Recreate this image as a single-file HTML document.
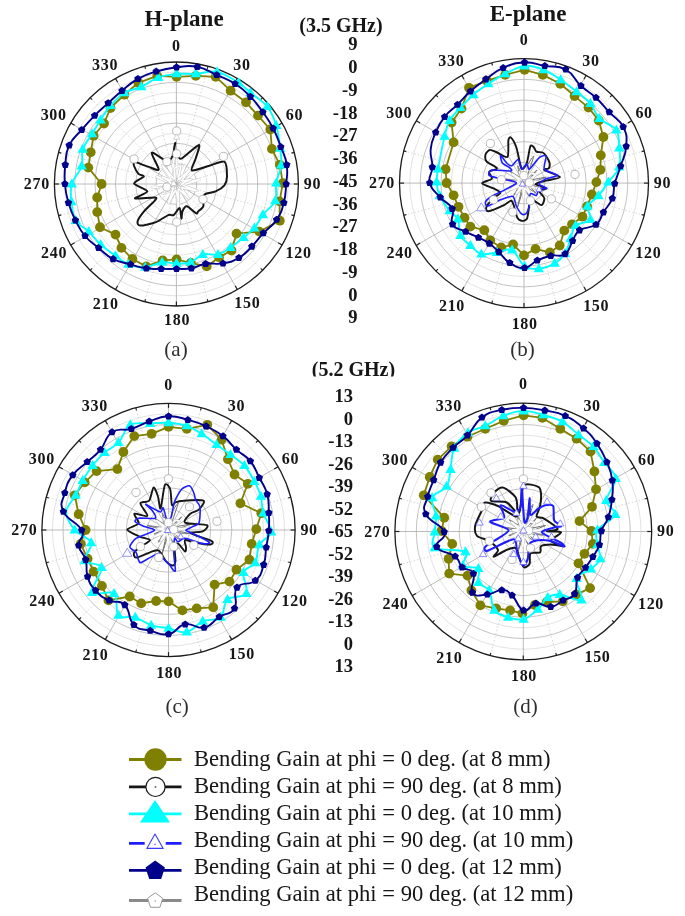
<!DOCTYPE html>
<html><head><meta charset="utf-8"><title>Bending gain radiation patterns</title>
<style>
html,body{margin:0;padding:0;background:#fff;}
body{width:685px;height:916px;overflow:hidden;font-family:"Liberation Serif",serif;}
svg{display:block;}
text{font-family:"Liberation Serif",serif;fill:#141414;}
.al{font-weight:bold;font-size:16px;letter-spacing:0.7px;}
.rl{font-weight:bold;font-size:18.5px;}
.ti{font-weight:bold;font-size:23px;}
.fr{font-weight:bold;font-size:20px;}
.sub{font-size:21px;fill:#2e2e2e;}
.lg{font-size:22.6px;}
</style></head><body>
<svg width="685" height="916" viewBox="0 0 685 916">
<defs><filter id="soft" x="-2%" y="-2%" width="104%" height="104%"><feGaussianBlur stdDeviation="0.45"/></filter></defs>
<rect width="685" height="916" fill="#fff"/>
<g filter="url(#soft)">
<g id="plot-a">
<circle cx="176.4" cy="184.0" r="10.17" fill="none" stroke="#dadada" stroke-width="0.8"/>
<circle cx="176.4" cy="184.0" r="20.33" fill="none" stroke="#b4b4b4" stroke-width="0.8"/>
<circle cx="176.4" cy="184.0" r="30.50" fill="none" stroke="#dadada" stroke-width="0.8"/>
<circle cx="176.4" cy="184.0" r="40.67" fill="none" stroke="#b4b4b4" stroke-width="0.8"/>
<circle cx="176.4" cy="184.0" r="50.83" fill="none" stroke="#dadada" stroke-width="0.8"/>
<circle cx="176.4" cy="184.0" r="61.00" fill="none" stroke="#b4b4b4" stroke-width="0.8"/>
<circle cx="176.4" cy="184.0" r="71.17" fill="none" stroke="#dadada" stroke-width="0.8"/>
<circle cx="176.4" cy="184.0" r="81.33" fill="none" stroke="#b4b4b4" stroke-width="0.8"/>
<circle cx="176.4" cy="184.0" r="91.50" fill="none" stroke="#dadada" stroke-width="0.8"/>
<circle cx="176.4" cy="184.0" r="101.67" fill="none" stroke="#b4b4b4" stroke-width="0.8"/>
<circle cx="176.4" cy="184.0" r="111.83" fill="none" stroke="#dadada" stroke-width="0.8"/>
<line x1="176.4" y1="184.0" x2="176.4" y2="62.0" stroke="#ababab" stroke-width="0.8"/>
<line x1="176.4" y1="66.5" x2="176.4" y2="62.0" stroke="#222" stroke-width="1.2"/>
<line x1="179.0" y1="174.2" x2="208.0" y2="66.2" stroke="#cccccc" stroke-width="0.8" stroke-dasharray="1.5,2"/>
<line x1="207.3" y1="68.9" x2="208.0" y2="66.2" stroke="#222" stroke-width="1.1"/>
<line x1="176.4" y1="184.0" x2="237.4" y2="78.3" stroke="#ababab" stroke-width="0.8"/>
<line x1="235.2" y1="82.2" x2="237.4" y2="78.3" stroke="#222" stroke-width="1.2"/>
<line x1="183.6" y1="176.8" x2="262.7" y2="97.7" stroke="#cccccc" stroke-width="0.8" stroke-dasharray="1.5,2"/>
<line x1="260.7" y1="99.7" x2="262.7" y2="97.7" stroke="#222" stroke-width="1.1"/>
<line x1="176.4" y1="184.0" x2="282.1" y2="123.0" stroke="#ababab" stroke-width="0.8"/>
<line x1="278.2" y1="125.2" x2="282.1" y2="123.0" stroke="#222" stroke-width="1.2"/>
<line x1="186.2" y1="181.4" x2="294.2" y2="152.4" stroke="#cccccc" stroke-width="0.8" stroke-dasharray="1.5,2"/>
<line x1="291.5" y1="153.1" x2="294.2" y2="152.4" stroke="#222" stroke-width="1.1"/>
<line x1="176.4" y1="184.0" x2="298.4" y2="184.0" stroke="#ababab" stroke-width="0.8"/>
<line x1="293.9" y1="184.0" x2="298.4" y2="184.0" stroke="#222" stroke-width="1.2"/>
<line x1="186.2" y1="186.6" x2="294.2" y2="215.6" stroke="#cccccc" stroke-width="0.8" stroke-dasharray="1.5,2"/>
<line x1="291.5" y1="214.9" x2="294.2" y2="215.6" stroke="#222" stroke-width="1.1"/>
<line x1="176.4" y1="184.0" x2="282.1" y2="245.0" stroke="#ababab" stroke-width="0.8"/>
<line x1="278.2" y1="242.7" x2="282.1" y2="245.0" stroke="#222" stroke-width="1.2"/>
<line x1="183.6" y1="191.2" x2="262.7" y2="270.3" stroke="#cccccc" stroke-width="0.8" stroke-dasharray="1.5,2"/>
<line x1="260.7" y1="268.3" x2="262.7" y2="270.3" stroke="#222" stroke-width="1.1"/>
<line x1="176.4" y1="184.0" x2="237.4" y2="289.7" stroke="#ababab" stroke-width="0.8"/>
<line x1="235.2" y1="285.8" x2="237.4" y2="289.7" stroke="#222" stroke-width="1.2"/>
<line x1="179.0" y1="193.8" x2="208.0" y2="301.8" stroke="#cccccc" stroke-width="0.8" stroke-dasharray="1.5,2"/>
<line x1="207.3" y1="299.1" x2="208.0" y2="301.8" stroke="#222" stroke-width="1.1"/>
<line x1="176.4" y1="184.0" x2="176.4" y2="306.0" stroke="#ababab" stroke-width="0.8"/>
<line x1="176.4" y1="301.5" x2="176.4" y2="306.0" stroke="#222" stroke-width="1.2"/>
<line x1="173.8" y1="193.8" x2="144.8" y2="301.8" stroke="#cccccc" stroke-width="0.8" stroke-dasharray="1.5,2"/>
<line x1="145.5" y1="299.1" x2="144.8" y2="301.8" stroke="#222" stroke-width="1.1"/>
<line x1="176.4" y1="184.0" x2="115.4" y2="289.7" stroke="#ababab" stroke-width="0.8"/>
<line x1="117.6" y1="285.8" x2="115.4" y2="289.7" stroke="#222" stroke-width="1.2"/>
<line x1="169.2" y1="191.2" x2="90.1" y2="270.3" stroke="#cccccc" stroke-width="0.8" stroke-dasharray="1.5,2"/>
<line x1="92.1" y1="268.3" x2="90.1" y2="270.3" stroke="#222" stroke-width="1.1"/>
<line x1="176.4" y1="184.0" x2="70.7" y2="245.0" stroke="#ababab" stroke-width="0.8"/>
<line x1="74.6" y1="242.8" x2="70.7" y2="245.0" stroke="#222" stroke-width="1.2"/>
<line x1="166.6" y1="186.6" x2="58.6" y2="215.6" stroke="#cccccc" stroke-width="0.8" stroke-dasharray="1.5,2"/>
<line x1="61.3" y1="214.9" x2="58.6" y2="215.6" stroke="#222" stroke-width="1.1"/>
<line x1="176.4" y1="184.0" x2="54.4" y2="184.0" stroke="#ababab" stroke-width="0.8"/>
<line x1="58.9" y1="184.0" x2="54.4" y2="184.0" stroke="#222" stroke-width="1.2"/>
<line x1="166.6" y1="181.4" x2="58.6" y2="152.4" stroke="#cccccc" stroke-width="0.8" stroke-dasharray="1.5,2"/>
<line x1="61.3" y1="153.1" x2="58.6" y2="152.4" stroke="#222" stroke-width="1.1"/>
<line x1="176.4" y1="184.0" x2="70.7" y2="123.0" stroke="#ababab" stroke-width="0.8"/>
<line x1="74.6" y1="125.2" x2="70.7" y2="123.0" stroke="#222" stroke-width="1.2"/>
<line x1="169.2" y1="176.8" x2="90.1" y2="97.7" stroke="#cccccc" stroke-width="0.8" stroke-dasharray="1.5,2"/>
<line x1="92.1" y1="99.7" x2="90.1" y2="97.7" stroke="#222" stroke-width="1.1"/>
<line x1="176.4" y1="184.0" x2="115.4" y2="78.3" stroke="#ababab" stroke-width="0.8"/>
<line x1="117.6" y1="82.2" x2="115.4" y2="78.3" stroke="#222" stroke-width="1.2"/>
<line x1="173.8" y1="174.2" x2="144.8" y2="66.2" stroke="#cccccc" stroke-width="0.8" stroke-dasharray="1.5,2"/>
<line x1="145.5" y1="68.9" x2="144.8" y2="66.2" stroke="#222" stroke-width="1.1"/>
<circle cx="176.4" cy="184.0" r="122.00" fill="none" stroke="#1c1c1c" stroke-width="1.3"/>
<path d="M176.4,151.5 C176.8,152.6 176.8,176.5 177.5,177.6 C178.3,178.7 184.9,165.1 185.2,165.1 C185.5,165.2 180.4,177.7 181.4,178.0 C182.5,178.4 197.4,168.8 197.7,169.1 C198.0,169.3 184.8,180.0 185.0,180.9 C185.1,181.8 199.5,179.6 199.4,179.9 C199.4,180.3 184.7,183.8 184.2,184.7 C183.7,185.5 193.7,190.0 193.5,190.2 C193.3,190.5 182.3,187.3 181.7,187.7 C181.1,188.2 186.7,195.9 186.4,196.0 C186.1,196.0 178.8,187.5 178.2,188.9 C177.6,190.3 179.1,212.4 178.9,212.5 C178.7,212.6 176.6,191.4 175.8,190.5 C175.1,189.5 170.5,201.1 170.2,201.1 C169.8,201.1 172.6,191.0 171.9,190.4 C171.3,189.8 162.7,194.0 162.6,193.7 C162.4,193.3 171.2,186.7 170.3,186.2 C169.4,185.7 152.1,187.7 151.9,187.4 C151.8,187.2 168.2,184.2 168.6,183.3 C169.0,182.4 156.8,177.3 156.9,176.9 C156.9,176.5 168.4,179.5 168.9,178.8 C169.5,178.0 162.6,168.1 163.0,168.1 C163.4,168.0 172.8,178.4 173.7,178.1 C174.5,177.8 172.8,167.0 173.0,164.8 C173.2,162.6 176.0,150.4 176.4,151.5 Z" fill="none" stroke="#c4c4c4" stroke-width="2.6" stroke-linejoin="round"/>
<path d="M176.4,151.5 C176.8,152.6 176.8,176.5 177.5,177.6 C178.3,178.7 184.9,165.1 185.2,165.1 C185.5,165.2 180.4,177.7 181.4,178.0 C182.5,178.4 197.4,168.8 197.7,169.1 C198.0,169.3 184.8,180.0 185.0,180.9 C185.1,181.8 199.5,179.6 199.4,179.9 C199.4,180.3 184.7,183.8 184.2,184.7 C183.7,185.5 193.7,190.0 193.5,190.2 C193.3,190.5 182.3,187.3 181.7,187.7 C181.1,188.2 186.7,195.9 186.4,196.0 C186.1,196.0 178.8,187.5 178.2,188.9 C177.6,190.3 179.1,212.4 178.9,212.5 C178.7,212.6 176.6,191.4 175.8,190.5 C175.1,189.5 170.5,201.1 170.2,201.1 C169.8,201.1 172.6,191.0 171.9,190.4 C171.3,189.8 162.7,194.0 162.6,193.7 C162.4,193.3 171.2,186.7 170.3,186.2 C169.4,185.7 152.1,187.7 151.9,187.4 C151.8,187.2 168.2,184.2 168.6,183.3 C169.0,182.4 156.8,177.3 156.9,176.9 C156.9,176.5 168.4,179.5 168.9,178.8 C169.5,178.0 162.6,168.1 163.0,168.1 C163.4,168.0 172.8,178.4 173.7,178.1 C174.5,177.8 172.8,167.0 173.0,164.8 C173.2,162.6 176.0,150.4 176.4,151.5 Z" fill="none" stroke="#fff" stroke-width="1.7" stroke-linejoin="round"/>
<path d="M180.5,166.3 C180.9,167.2 177.8,179.4 178.8,179.4 C179.9,179.4 193.0,165.8 193.2,165.9 C193.5,166.0 182.1,179.4 181.9,180.6 C181.8,181.7 191.3,179.1 191.3,179.4 C191.3,179.7 181.1,183.3 181.6,184.3 C182.1,185.2 197.4,190.5 197.4,190.8 C197.4,191.1 182.4,187.1 181.7,187.8 C181.0,188.5 189.2,198.9 188.9,198.9 C188.7,199.0 179.2,188.7 178.3,188.8 C177.5,189.0 178.7,200.6 178.5,200.8 C178.2,200.9 176.3,190.2 175.5,190.4 C174.6,190.6 168.5,203.4 168.3,203.1 C168.1,202.9 173.4,188.9 173.1,188.0 C172.7,187.1 164.8,192.2 164.5,192.0 C164.3,191.8 170.8,186.5 170.2,185.9 C169.6,185.3 156.9,185.6 156.9,185.4 C157.0,185.1 170.8,183.8 171.3,183.1 C171.7,182.4 162.4,177.4 162.4,177.2 C162.4,176.9 171.3,181.0 171.3,180.0 C171.3,179.0 162.1,165.4 162.3,165.3 C162.6,165.2 173.4,178.9 174.5,179.2 C175.5,179.4 174.0,169.6 174.5,168.5 C175.0,167.4 180.1,165.4 180.5,166.3 Z" fill="none" stroke="#c4c4c4" stroke-width="2.6" stroke-linejoin="round"/>
<path d="M180.5,166.3 C180.9,167.2 177.8,179.4 178.8,179.4 C179.9,179.4 193.0,165.8 193.2,165.9 C193.5,166.0 182.1,179.4 181.9,180.6 C181.8,181.7 191.3,179.1 191.3,179.4 C191.3,179.7 181.1,183.3 181.6,184.3 C182.1,185.2 197.4,190.5 197.4,190.8 C197.4,191.1 182.4,187.1 181.7,187.8 C181.0,188.5 189.2,198.9 188.9,198.9 C188.7,199.0 179.2,188.7 178.3,188.8 C177.5,189.0 178.7,200.6 178.5,200.8 C178.2,200.9 176.3,190.2 175.5,190.4 C174.6,190.6 168.5,203.4 168.3,203.1 C168.1,202.9 173.4,188.9 173.1,188.0 C172.7,187.1 164.8,192.2 164.5,192.0 C164.3,191.8 170.8,186.5 170.2,185.9 C169.6,185.3 156.9,185.6 156.9,185.4 C157.0,185.1 170.8,183.8 171.3,183.1 C171.7,182.4 162.4,177.4 162.4,177.2 C162.4,176.9 171.3,181.0 171.3,180.0 C171.3,179.0 162.1,165.4 162.3,165.3 C162.6,165.2 173.4,178.9 174.5,179.2 C175.5,179.4 174.0,169.6 174.5,168.5 C175.0,167.4 180.1,165.4 180.5,166.3 Z" fill="none" stroke="#fff" stroke-width="1.7" stroke-linejoin="round"/>
<path d="M175.3,142.9 C175.5,142.2 173.6,148.4 174.1,150.3 C174.5,152.2 177.7,156.2 178.8,157.3 C179.9,158.3 179.6,159.8 182.3,158.2 C185.0,156.5 197.2,144.9 199.0,145.0 C200.7,145.1 196.4,155.6 195.5,159.0 C194.5,162.4 190.2,169.5 191.9,170.4 C193.7,171.4 204.3,167.2 208.6,166.0 C212.9,164.9 221.9,160.3 224.4,161.7 C226.8,163.1 227.0,173.4 227.0,176.6 C227.0,179.7 225.9,183.3 224.4,185.3 C222.8,187.3 218.2,190.3 215.6,191.4 C213.0,192.6 206.8,193.0 205.1,194.1 C203.4,195.1 203.2,197.7 203.0,199.3 C202.8,201.0 204.0,204.7 203.3,206.3 C202.7,208.0 199.0,210.7 198.1,211.6 C197.1,212.5 197.8,214.0 196.3,213.3 C194.8,212.6 188.6,206.6 186.7,206.3 C184.8,206.1 183.0,210.0 182.3,211.6 C181.6,213.2 181.8,219.1 181.4,218.6 C181.1,218.1 180.7,208.6 179.7,208.1 C178.6,207.6 175.1,214.2 173.6,215.1 C172.0,216.0 170.6,214.2 168.3,215.1 C166.0,216.0 159.8,220.7 156.0,222.1 C152.3,223.5 142.7,225.7 140.3,225.6 C137.8,225.5 137.2,223.1 137.6,221.2 C138.1,219.4 141.6,214.3 143.8,211.6 C146.0,208.9 152.8,202.9 154.3,201.1 C155.8,199.2 157.7,197.9 155.2,197.6 C152.6,197.2 136.1,199.3 135.0,198.5 C134.0,197.6 147.4,193.4 147.3,191.4 C147.2,189.5 134.6,185.5 134.1,183.6 C133.7,181.6 143.2,177.8 143.8,176.6 C144.4,175.3 139.8,175.3 138.5,173.9 C137.2,172.5 134.7,167.7 134.1,166.0 C133.6,164.4 133.3,161.9 134.1,161.7 C135.0,161.4 138.3,163.2 140.3,163.9 C142.3,164.6 146.6,166.2 149.0,166.9 C151.5,167.7 158.3,171.4 158.7,169.5 C159.0,167.7 151.1,154.3 151.7,152.9 C152.2,151.5 160.8,157.9 163.0,159.0 C165.3,160.2 167.0,162.1 168.3,161.7 C169.6,161.2 171.7,158.0 172.7,155.5 C173.6,153.0 175.1,143.6 175.3,142.9 Z" fill="none" stroke="#151515" stroke-width="2.0" stroke-linejoin="round"/>
<circle cx="176.7" cy="131.0" r="4.1" fill="#fff" stroke="#a8a8a8" stroke-width="0.8"/>
<circle cx="134.1" cy="159.0" r="4.1" fill="#fff" stroke="#a8a8a8" stroke-width="0.8"/>
<circle cx="223.5" cy="156.4" r="4.1" fill="#fff" stroke="#a8a8a8" stroke-width="0.8"/>
<circle cx="203.0" cy="199.3" r="4.1" fill="#fff" stroke="#a8a8a8" stroke-width="0.8"/>
<circle cx="176.7" cy="222.1" r="4.1" fill="#fff" stroke="#a8a8a8" stroke-width="0.8"/>
<circle cx="176.7" cy="153.8" r="4.1" fill="#fff" stroke="#a8a8a8" stroke-width="0.8"/>
<circle cx="166.9" cy="161.7" r="4.1" fill="#fff" stroke="#a8a8a8" stroke-width="0.8"/>
<circle cx="166.9" cy="187.1" r="4.1" fill="#fff" stroke="#a8a8a8" stroke-width="0.8"/>
<polygon points="176.7,133.8 173.6,139.2 179.8,139.2" fill="#fff" stroke="#c0c0c0" stroke-width="0.7" stroke-linejoin="round"/>
<polygon points="173.6,180.2 170.4,185.6 176.7,185.6" fill="#fff" stroke="#c0c0c0" stroke-width="0.7" stroke-linejoin="round"/>
<path d="M176.6,76.8 L195.8,75.9 L215.7,76.8 L230.6,90.7 L246.0,102.3 L258.0,115.6 L270.3,129.5 L271.9,148.9 L279.8,164.8 L282.8,183.1 L279.6,201.4 L279.8,220.7 L259.3,231.6 L236.5,233.6 L231.5,250.5 L219.0,257.4 L206.7,266.4 L190.8,263.0 L176.6,259.4 L162.7,260.4 L146.3,266.4 L132.4,259.0 L121.4,247.9 L115.5,234.6 L100.0,227.2 L97.2,212.1 L97.2,197.5 L101.6,184.0 L88.3,167.6 L90.7,152.3 L93.6,135.8 L104.0,123.5 L110.5,108.0 L124.4,94.7 L138.3,82.8 L157.2,75.9 Z" fill="none" stroke="#808000" stroke-width="1.8" stroke-linejoin="round"/>
<circle cx="176.6" cy="76.8" r="4.9" fill="#808000" stroke="none" stroke-width="0"/>
<circle cx="195.8" cy="75.9" r="4.9" fill="#808000" stroke="none" stroke-width="0"/>
<circle cx="215.7" cy="76.8" r="4.9" fill="#808000" stroke="none" stroke-width="0"/>
<circle cx="230.6" cy="90.7" r="4.9" fill="#808000" stroke="none" stroke-width="0"/>
<circle cx="246.0" cy="102.3" r="4.9" fill="#808000" stroke="none" stroke-width="0"/>
<circle cx="258.0" cy="115.6" r="4.9" fill="#808000" stroke="none" stroke-width="0"/>
<circle cx="270.3" cy="129.5" r="4.9" fill="#808000" stroke="none" stroke-width="0"/>
<circle cx="271.9" cy="148.9" r="4.9" fill="#808000" stroke="none" stroke-width="0"/>
<circle cx="279.8" cy="164.8" r="4.9" fill="#808000" stroke="none" stroke-width="0"/>
<circle cx="282.8" cy="183.1" r="4.9" fill="#808000" stroke="none" stroke-width="0"/>
<circle cx="279.6" cy="201.4" r="4.9" fill="#808000" stroke="none" stroke-width="0"/>
<circle cx="279.8" cy="220.7" r="4.9" fill="#808000" stroke="none" stroke-width="0"/>
<circle cx="259.3" cy="231.6" r="4.9" fill="#808000" stroke="none" stroke-width="0"/>
<circle cx="236.5" cy="233.6" r="4.9" fill="#808000" stroke="none" stroke-width="0"/>
<circle cx="231.5" cy="250.5" r="4.9" fill="#808000" stroke="none" stroke-width="0"/>
<circle cx="219.0" cy="257.4" r="4.9" fill="#808000" stroke="none" stroke-width="0"/>
<circle cx="206.7" cy="266.4" r="4.9" fill="#808000" stroke="none" stroke-width="0"/>
<circle cx="190.8" cy="263.0" r="4.9" fill="#808000" stroke="none" stroke-width="0"/>
<circle cx="176.6" cy="259.4" r="4.9" fill="#808000" stroke="none" stroke-width="0"/>
<circle cx="162.7" cy="260.4" r="4.9" fill="#808000" stroke="none" stroke-width="0"/>
<circle cx="146.3" cy="266.4" r="4.9" fill="#808000" stroke="none" stroke-width="0"/>
<circle cx="132.4" cy="259.0" r="4.9" fill="#808000" stroke="none" stroke-width="0"/>
<circle cx="121.4" cy="247.9" r="4.9" fill="#808000" stroke="none" stroke-width="0"/>
<circle cx="115.5" cy="234.6" r="4.9" fill="#808000" stroke="none" stroke-width="0"/>
<circle cx="100.0" cy="227.2" r="4.9" fill="#808000" stroke="none" stroke-width="0"/>
<circle cx="97.2" cy="212.1" r="4.9" fill="#808000" stroke="none" stroke-width="0"/>
<circle cx="97.2" cy="197.5" r="4.9" fill="#808000" stroke="none" stroke-width="0"/>
<circle cx="101.6" cy="184.0" r="4.9" fill="#808000" stroke="none" stroke-width="0"/>
<circle cx="88.3" cy="167.6" r="4.9" fill="#808000" stroke="none" stroke-width="0"/>
<circle cx="90.7" cy="152.3" r="4.9" fill="#808000" stroke="none" stroke-width="0"/>
<circle cx="93.6" cy="135.8" r="4.9" fill="#808000" stroke="none" stroke-width="0"/>
<circle cx="104.0" cy="123.5" r="4.9" fill="#808000" stroke="none" stroke-width="0"/>
<circle cx="110.5" cy="108.0" r="4.9" fill="#808000" stroke="none" stroke-width="0"/>
<circle cx="124.4" cy="94.7" r="4.9" fill="#808000" stroke="none" stroke-width="0"/>
<circle cx="138.3" cy="82.8" r="4.9" fill="#808000" stroke="none" stroke-width="0"/>
<circle cx="157.2" cy="75.9" r="4.9" fill="#808000" stroke="none" stroke-width="0"/>
<path d="M176.6,73.9 C182.8,73.3 189.1,74.2 195.8,73.9 C202.6,73.5 209.9,70.4 217.1,71.9 C224.2,73.4 232.9,79.3 238.5,82.8 C244.1,86.3 245.6,88.8 250.4,92.7 C255.2,96.7 263.0,101.2 267.3,106.6 C271.6,112.1 274.1,118.5 276.2,125.5 C278.4,132.4 279.4,141.7 280.2,148.3 C281.0,154.9 281.8,159.4 281.2,165.2 C280.5,171.0 277.2,177.1 276.2,183.1 C275.2,189.0 277.4,195.6 275.2,200.8 C273.0,206.1 266.4,210.2 262.9,214.7 C259.4,219.3 257.6,224.2 254.4,228.0 C251.1,231.8 247.4,234.3 243.5,237.6 C239.5,240.8 234.8,244.7 230.6,247.5 C226.3,250.3 222.7,253.3 218.0,254.4 C213.4,255.6 207.4,253.1 202.8,254.4 C198.2,255.8 194.8,260.9 190.4,262.4 C186.1,263.9 181.3,263.4 176.6,263.4 C171.8,263.4 167.4,261.7 162.1,262.4 C156.9,263.0 150.9,267.0 145.3,267.3 C139.6,267.7 133.4,266.3 128.4,264.4 C123.4,262.4 120.1,259.1 115.5,255.8 C110.9,252.5 105.1,248.5 100.6,244.5 C96.1,240.5 92.8,235.6 88.7,231.6 C84.5,227.6 78.7,225.6 75.8,220.7 C72.9,215.7 72.1,207.9 71.4,201.8 C70.8,195.7 70.1,189.9 71.8,184.0 C73.5,178.0 79.9,172.0 81.7,166.2 C83.6,160.4 81.0,154.7 82.7,149.3 C84.5,143.9 89.1,138.7 92.1,133.8 C95.0,128.9 97.5,124.6 100.6,119.9 C103.7,115.2 106.6,110.2 110.5,105.6 C114.5,101.1 119.3,95.9 124.4,92.7 C129.6,89.6 135.7,89.3 141.3,86.8 C146.9,84.2 152.3,79.6 158.2,77.4 C164.1,75.3 170.3,74.5 176.6,73.9 Z" fill="none" stroke="#00ffff" stroke-width="1.9" stroke-linejoin="round"/>
<polygon points="176.6,68.3 171.4,77.3 181.7,77.3" fill="#00ffff" stroke="none" stroke-width="0" stroke-linejoin="round"/>
<polygon points="195.8,68.3 190.6,77.3 201.0,77.3" fill="#00ffff" stroke="none" stroke-width="0" stroke-linejoin="round"/>
<polygon points="217.1,66.3 211.9,75.3 222.2,75.3" fill="#00ffff" stroke="none" stroke-width="0" stroke-linejoin="round"/>
<polygon points="238.5,77.2 233.3,86.2 243.7,86.2" fill="#00ffff" stroke="none" stroke-width="0" stroke-linejoin="round"/>
<polygon points="250.4,87.2 245.2,96.2 255.6,96.2" fill="#00ffff" stroke="none" stroke-width="0" stroke-linejoin="round"/>
<polygon points="267.3,101.1 262.1,110.1 272.5,110.1" fill="#00ffff" stroke="none" stroke-width="0" stroke-linejoin="round"/>
<polygon points="276.2,119.9 271.0,128.9 281.4,128.9" fill="#00ffff" stroke="none" stroke-width="0" stroke-linejoin="round"/>
<polygon points="280.2,142.8 275.0,151.8 285.4,151.8" fill="#00ffff" stroke="none" stroke-width="0" stroke-linejoin="round"/>
<polygon points="281.2,159.6 276.0,168.6 286.4,168.6" fill="#00ffff" stroke="none" stroke-width="0" stroke-linejoin="round"/>
<polygon points="276.2,177.5 271.0,186.5 281.4,186.5" fill="#00ffff" stroke="none" stroke-width="0" stroke-linejoin="round"/>
<polygon points="275.2,195.3 270.0,204.3 280.4,204.3" fill="#00ffff" stroke="none" stroke-width="0" stroke-linejoin="round"/>
<polygon points="262.9,209.2 257.7,218.2 268.1,218.2" fill="#00ffff" stroke="none" stroke-width="0" stroke-linejoin="round"/>
<polygon points="254.4,222.5 249.2,231.5 259.6,231.5" fill="#00ffff" stroke="none" stroke-width="0" stroke-linejoin="round"/>
<polygon points="243.5,232.0 238.3,241.0 248.7,241.0" fill="#00ffff" stroke="none" stroke-width="0" stroke-linejoin="round"/>
<polygon points="230.6,241.9 225.4,250.9 235.7,250.9" fill="#00ffff" stroke="none" stroke-width="0" stroke-linejoin="round"/>
<polygon points="218.0,248.9 212.9,257.9 223.2,257.9" fill="#00ffff" stroke="none" stroke-width="0" stroke-linejoin="round"/>
<polygon points="202.8,248.9 197.6,257.9 208.0,257.9" fill="#00ffff" stroke="none" stroke-width="0" stroke-linejoin="round"/>
<polygon points="190.4,256.8 185.3,265.8 195.6,265.8" fill="#00ffff" stroke="none" stroke-width="0" stroke-linejoin="round"/>
<polygon points="176.6,257.8 171.4,266.8 181.7,266.8" fill="#00ffff" stroke="none" stroke-width="0" stroke-linejoin="round"/>
<polygon points="162.1,256.8 157.0,265.8 167.3,265.8" fill="#00ffff" stroke="none" stroke-width="0" stroke-linejoin="round"/>
<polygon points="145.3,261.8 140.1,270.8 150.5,270.8" fill="#00ffff" stroke="none" stroke-width="0" stroke-linejoin="round"/>
<polygon points="128.4,258.8 123.2,267.8 133.6,267.8" fill="#00ffff" stroke="none" stroke-width="0" stroke-linejoin="round"/>
<polygon points="115.5,250.3 110.3,259.3 120.7,259.3" fill="#00ffff" stroke="none" stroke-width="0" stroke-linejoin="round"/>
<polygon points="100.6,238.9 95.4,248.0 105.8,248.0" fill="#00ffff" stroke="none" stroke-width="0" stroke-linejoin="round"/>
<polygon points="88.7,226.0 83.5,235.1 93.9,235.1" fill="#00ffff" stroke="none" stroke-width="0" stroke-linejoin="round"/>
<polygon points="75.8,215.1 70.6,224.1 81.0,224.1" fill="#00ffff" stroke="none" stroke-width="0" stroke-linejoin="round"/>
<polygon points="71.4,196.3 66.2,205.3 76.6,205.3" fill="#00ffff" stroke="none" stroke-width="0" stroke-linejoin="round"/>
<polygon points="71.8,178.4 66.6,187.4 77.0,187.4" fill="#00ffff" stroke="none" stroke-width="0" stroke-linejoin="round"/>
<polygon points="81.7,160.6 76.5,169.6 86.9,169.6" fill="#00ffff" stroke="none" stroke-width="0" stroke-linejoin="round"/>
<polygon points="82.7,143.7 77.5,152.8 87.9,152.8" fill="#00ffff" stroke="none" stroke-width="0" stroke-linejoin="round"/>
<polygon points="92.1,128.3 86.9,137.3 97.3,137.3" fill="#00ffff" stroke="none" stroke-width="0" stroke-linejoin="round"/>
<polygon points="100.6,114.4 95.4,123.4 105.8,123.4" fill="#00ffff" stroke="none" stroke-width="0" stroke-linejoin="round"/>
<polygon points="110.5,100.1 105.3,109.1 115.7,109.1" fill="#00ffff" stroke="none" stroke-width="0" stroke-linejoin="round"/>
<polygon points="124.4,87.2 119.2,96.2 129.6,96.2" fill="#00ffff" stroke="none" stroke-width="0" stroke-linejoin="round"/>
<polygon points="141.3,81.2 136.1,90.2 146.5,90.2" fill="#00ffff" stroke="none" stroke-width="0" stroke-linejoin="round"/>
<polygon points="158.2,71.9 153.0,80.9 163.4,80.9" fill="#00ffff" stroke="none" stroke-width="0" stroke-linejoin="round"/>
<path d="M176.6,67.3 C186.8,66.2 187.2,65.0 197.2,66.9 C207.2,68.8 207.2,70.6 216.7,74.9 C226.1,79.1 226.7,78.3 235.1,83.8 C243.6,89.3 243.5,89.6 250.4,96.7 C257.4,103.8 257.2,104.2 262.9,112.2 C268.6,120.1 268.8,119.8 273.2,128.5 C277.7,137.2 277.4,137.8 280.8,146.9 C284.2,156.0 285.4,155.5 286.7,164.8 C288.1,174.1 286.9,174.6 286.1,184.1 C285.4,193.6 286.1,193.9 283.8,202.8 C281.4,211.7 281.7,212.1 276.6,219.7 C271.5,227.3 269.5,226.5 263.3,233.2 C257.1,239.9 257.9,240.3 251.8,246.5 C245.7,252.7 246.1,253.6 238.9,257.8 C231.7,262.0 231.3,261.9 223.0,263.4 C214.7,264.9 213.6,262.5 205.7,263.8 C197.8,265.0 198.7,267.0 191.4,268.3 C184.1,269.6 184.1,268.8 176.6,268.9 C169.0,269.1 168.7,269.1 161.2,268.9 C153.6,268.8 154.0,269.5 146.3,268.3 C138.6,267.2 138.7,266.7 130.4,264.4 C122.1,262.0 121.0,263.1 113.1,259.0 C105.2,254.9 105.6,253.6 98.6,247.9 C91.6,242.1 90.9,242.9 85.1,236.0 C79.3,229.1 79.6,228.6 75.4,220.3 C71.2,212.0 71.1,211.9 68.4,202.8 C65.8,193.7 65.7,193.5 64.9,184.0 C64.1,174.5 64.2,174.5 65.3,164.8 C66.4,155.1 65.1,154.1 69.2,145.3 C73.3,136.6 75.4,137.3 81.7,129.9 C88.1,122.4 88.0,122.3 94.6,115.6 C101.2,108.9 101.3,109.3 108.1,103.1 C115.0,96.8 114.6,96.8 122.0,90.7 C129.5,84.7 129.4,83.6 137.9,78.8 C146.5,74.0 146.5,74.4 156.2,71.5 C165.8,68.6 166.3,68.5 176.6,67.3 Z" fill="none" stroke="#00008b" stroke-width="1.9" stroke-linejoin="round"/>
<polygon points="176.6,63.4 180.3,66.1 178.8,70.5 174.3,70.5 172.8,66.1" fill="#00008b" stroke="none" stroke-width="0" stroke-linejoin="round"/>
<polygon points="197.2,63.0 200.9,65.7 199.5,70.1 194.9,70.1 193.5,65.7" fill="#00008b" stroke="none" stroke-width="0" stroke-linejoin="round"/>
<polygon points="216.7,71.0 220.4,73.7 218.9,78.0 214.4,78.0 212.9,73.7" fill="#00008b" stroke="none" stroke-width="0" stroke-linejoin="round"/>
<polygon points="235.1,79.9 238.8,82.6 237.4,87.0 232.8,87.0 231.4,82.6" fill="#00008b" stroke="none" stroke-width="0" stroke-linejoin="round"/>
<polygon points="250.4,92.8 254.1,95.5 252.7,99.9 248.1,99.9 246.7,95.5" fill="#00008b" stroke="none" stroke-width="0" stroke-linejoin="round"/>
<polygon points="262.9,108.3 266.6,111.0 265.2,115.3 260.6,115.3 259.2,111.0" fill="#00008b" stroke="none" stroke-width="0" stroke-linejoin="round"/>
<polygon points="273.2,124.6 276.9,127.3 275.5,131.6 270.9,131.6 269.5,127.3" fill="#00008b" stroke="none" stroke-width="0" stroke-linejoin="round"/>
<polygon points="280.8,143.0 284.5,145.7 283.1,150.1 278.5,150.1 277.1,145.7" fill="#00008b" stroke="none" stroke-width="0" stroke-linejoin="round"/>
<polygon points="286.7,160.9 290.5,163.6 289.0,168.0 284.4,168.0 283.0,163.6" fill="#00008b" stroke="none" stroke-width="0" stroke-linejoin="round"/>
<polygon points="286.1,180.2 289.9,182.9 288.4,187.2 283.9,187.2 282.4,182.9" fill="#00008b" stroke="none" stroke-width="0" stroke-linejoin="round"/>
<polygon points="283.8,198.9 287.5,201.6 286.1,206.0 281.5,206.0 280.1,201.6" fill="#00008b" stroke="none" stroke-width="0" stroke-linejoin="round"/>
<polygon points="276.6,215.8 280.3,218.5 278.9,222.8 274.3,222.8 272.9,218.5" fill="#00008b" stroke="none" stroke-width="0" stroke-linejoin="round"/>
<polygon points="263.3,229.3 267.0,232.0 265.6,236.3 261.0,236.3 259.6,232.0" fill="#00008b" stroke="none" stroke-width="0" stroke-linejoin="round"/>
<polygon points="251.8,242.6 255.5,245.3 254.1,249.7 249.5,249.7 248.1,245.3" fill="#00008b" stroke="none" stroke-width="0" stroke-linejoin="round"/>
<polygon points="238.9,253.9 242.6,256.6 241.2,261.0 236.6,261.0 235.2,256.6" fill="#00008b" stroke="none" stroke-width="0" stroke-linejoin="round"/>
<polygon points="223.0,259.5 226.7,262.2 225.3,266.5 220.7,266.5 219.3,262.2" fill="#00008b" stroke="none" stroke-width="0" stroke-linejoin="round"/>
<polygon points="205.7,259.9 209.4,262.6 208.0,266.9 203.4,266.9 202.0,262.6" fill="#00008b" stroke="none" stroke-width="0" stroke-linejoin="round"/>
<polygon points="191.4,264.4 195.2,267.1 193.7,271.5 189.1,271.5 187.7,267.1" fill="#00008b" stroke="none" stroke-width="0" stroke-linejoin="round"/>
<polygon points="176.6,265.0 180.3,267.7 178.8,272.1 174.3,272.1 172.8,267.7" fill="#00008b" stroke="none" stroke-width="0" stroke-linejoin="round"/>
<polygon points="161.2,265.0 164.9,267.7 163.4,272.1 158.9,272.1 157.4,267.7" fill="#00008b" stroke="none" stroke-width="0" stroke-linejoin="round"/>
<polygon points="146.3,264.4 150.0,267.1 148.6,271.5 144.0,271.5 142.6,267.1" fill="#00008b" stroke="none" stroke-width="0" stroke-linejoin="round"/>
<polygon points="130.4,260.5 134.1,263.2 132.7,267.5 128.1,267.5 126.7,263.2" fill="#00008b" stroke="none" stroke-width="0" stroke-linejoin="round"/>
<polygon points="113.1,255.1 116.8,257.8 115.4,262.2 110.8,262.2 109.4,257.8" fill="#00008b" stroke="none" stroke-width="0" stroke-linejoin="round"/>
<polygon points="98.6,244.0 102.3,246.7 100.9,251.0 96.3,251.0 94.9,246.7" fill="#00008b" stroke="none" stroke-width="0" stroke-linejoin="round"/>
<polygon points="85.1,232.1 88.8,234.8 87.4,239.1 82.8,239.1 81.4,234.8" fill="#00008b" stroke="none" stroke-width="0" stroke-linejoin="round"/>
<polygon points="75.4,216.4 79.1,219.1 77.7,223.4 73.1,223.4 71.7,219.1" fill="#00008b" stroke="none" stroke-width="0" stroke-linejoin="round"/>
<polygon points="68.4,198.9 72.1,201.6 70.7,206.0 66.1,206.0 64.7,201.6" fill="#00008b" stroke="none" stroke-width="0" stroke-linejoin="round"/>
<polygon points="64.9,180.1 68.6,182.8 67.2,187.1 62.6,187.1 61.2,182.8" fill="#00008b" stroke="none" stroke-width="0" stroke-linejoin="round"/>
<polygon points="65.3,160.9 69.0,163.6 67.6,168.0 63.0,168.0 61.5,163.6" fill="#00008b" stroke="none" stroke-width="0" stroke-linejoin="round"/>
<polygon points="69.2,141.4 72.9,144.1 71.5,148.5 66.9,148.5 65.5,144.1" fill="#00008b" stroke="none" stroke-width="0" stroke-linejoin="round"/>
<polygon points="81.7,126.0 85.4,128.7 84.0,133.0 79.4,133.0 78.0,128.7" fill="#00008b" stroke="none" stroke-width="0" stroke-linejoin="round"/>
<polygon points="94.6,111.7 98.4,114.4 96.9,118.7 92.3,118.7 90.9,114.4" fill="#00008b" stroke="none" stroke-width="0" stroke-linejoin="round"/>
<polygon points="108.1,99.2 111.9,101.8 110.4,106.2 105.9,106.2 104.4,101.8" fill="#00008b" stroke="none" stroke-width="0" stroke-linejoin="round"/>
<polygon points="122.0,86.8 125.7,89.5 124.3,93.9 119.7,93.9 118.3,89.5" fill="#00008b" stroke="none" stroke-width="0" stroke-linejoin="round"/>
<polygon points="137.9,74.9 141.6,77.6 140.2,82.0 135.6,82.0 134.2,77.6" fill="#00008b" stroke="none" stroke-width="0" stroke-linejoin="round"/>
<polygon points="156.2,67.6 159.9,70.3 158.5,74.6 153.9,74.6 152.5,70.3" fill="#00008b" stroke="none" stroke-width="0" stroke-linejoin="round"/>
</g>
<g id="plot-b">
<circle cx="524.0" cy="183.1" r="10.38" fill="none" stroke="#dadada" stroke-width="0.8"/>
<circle cx="524.0" cy="183.1" r="20.75" fill="none" stroke="#b4b4b4" stroke-width="0.8"/>
<circle cx="524.0" cy="183.1" r="31.12" fill="none" stroke="#dadada" stroke-width="0.8"/>
<circle cx="524.0" cy="183.1" r="41.50" fill="none" stroke="#b4b4b4" stroke-width="0.8"/>
<circle cx="524.0" cy="183.1" r="51.88" fill="none" stroke="#dadada" stroke-width="0.8"/>
<circle cx="524.0" cy="183.1" r="62.25" fill="none" stroke="#b4b4b4" stroke-width="0.8"/>
<circle cx="524.0" cy="183.1" r="72.62" fill="none" stroke="#dadada" stroke-width="0.8"/>
<circle cx="524.0" cy="183.1" r="83.00" fill="none" stroke="#b4b4b4" stroke-width="0.8"/>
<circle cx="524.0" cy="183.1" r="93.38" fill="none" stroke="#dadada" stroke-width="0.8"/>
<circle cx="524.0" cy="183.1" r="103.75" fill="none" stroke="#b4b4b4" stroke-width="0.8"/>
<circle cx="524.0" cy="183.1" r="114.12" fill="none" stroke="#dadada" stroke-width="0.8"/>
<line x1="524.0" y1="183.1" x2="524.0" y2="58.6" stroke="#ababab" stroke-width="0.8"/>
<line x1="524.0" y1="63.1" x2="524.0" y2="58.6" stroke="#222" stroke-width="1.2"/>
<line x1="526.7" y1="173.1" x2="556.2" y2="62.8" stroke="#cccccc" stroke-width="0.8" stroke-dasharray="1.5,2"/>
<line x1="555.5" y1="65.5" x2="556.2" y2="62.8" stroke="#222" stroke-width="1.1"/>
<line x1="524.0" y1="183.1" x2="586.2" y2="75.3" stroke="#ababab" stroke-width="0.8"/>
<line x1="584.0" y1="79.2" x2="586.2" y2="75.3" stroke="#222" stroke-width="1.2"/>
<line x1="531.3" y1="175.8" x2="612.0" y2="95.1" stroke="#cccccc" stroke-width="0.8" stroke-dasharray="1.5,2"/>
<line x1="610.1" y1="97.0" x2="612.0" y2="95.1" stroke="#222" stroke-width="1.1"/>
<line x1="524.0" y1="183.1" x2="631.8" y2="120.8" stroke="#ababab" stroke-width="0.8"/>
<line x1="627.9" y1="123.1" x2="631.8" y2="120.8" stroke="#222" stroke-width="1.2"/>
<line x1="534.0" y1="180.4" x2="644.3" y2="150.9" stroke="#cccccc" stroke-width="0.8" stroke-dasharray="1.5,2"/>
<line x1="641.6" y1="151.6" x2="644.3" y2="150.9" stroke="#222" stroke-width="1.1"/>
<line x1="524.0" y1="183.1" x2="648.5" y2="183.1" stroke="#ababab" stroke-width="0.8"/>
<line x1="644.0" y1="183.1" x2="648.5" y2="183.1" stroke="#222" stroke-width="1.2"/>
<line x1="534.0" y1="185.8" x2="644.3" y2="215.3" stroke="#cccccc" stroke-width="0.8" stroke-dasharray="1.5,2"/>
<line x1="641.6" y1="214.6" x2="644.3" y2="215.3" stroke="#222" stroke-width="1.1"/>
<line x1="524.0" y1="183.1" x2="631.8" y2="245.3" stroke="#ababab" stroke-width="0.8"/>
<line x1="627.9" y1="243.1" x2="631.8" y2="245.3" stroke="#222" stroke-width="1.2"/>
<line x1="531.3" y1="190.4" x2="612.0" y2="271.1" stroke="#cccccc" stroke-width="0.8" stroke-dasharray="1.5,2"/>
<line x1="610.1" y1="269.2" x2="612.0" y2="271.1" stroke="#222" stroke-width="1.1"/>
<line x1="524.0" y1="183.1" x2="586.2" y2="290.9" stroke="#ababab" stroke-width="0.8"/>
<line x1="584.0" y1="287.0" x2="586.2" y2="290.9" stroke="#222" stroke-width="1.2"/>
<line x1="526.7" y1="193.1" x2="556.2" y2="303.4" stroke="#cccccc" stroke-width="0.8" stroke-dasharray="1.5,2"/>
<line x1="555.5" y1="300.7" x2="556.2" y2="303.4" stroke="#222" stroke-width="1.1"/>
<line x1="524.0" y1="183.1" x2="524.0" y2="307.6" stroke="#ababab" stroke-width="0.8"/>
<line x1="524.0" y1="303.1" x2="524.0" y2="307.6" stroke="#222" stroke-width="1.2"/>
<line x1="521.3" y1="193.1" x2="491.8" y2="303.4" stroke="#cccccc" stroke-width="0.8" stroke-dasharray="1.5,2"/>
<line x1="492.5" y1="300.7" x2="491.8" y2="303.4" stroke="#222" stroke-width="1.1"/>
<line x1="524.0" y1="183.1" x2="461.8" y2="290.9" stroke="#ababab" stroke-width="0.8"/>
<line x1="464.0" y1="287.0" x2="461.8" y2="290.9" stroke="#222" stroke-width="1.2"/>
<line x1="516.7" y1="190.4" x2="436.0" y2="271.1" stroke="#cccccc" stroke-width="0.8" stroke-dasharray="1.5,2"/>
<line x1="437.9" y1="269.2" x2="436.0" y2="271.1" stroke="#222" stroke-width="1.1"/>
<line x1="524.0" y1="183.1" x2="416.2" y2="245.4" stroke="#ababab" stroke-width="0.8"/>
<line x1="420.1" y1="243.1" x2="416.2" y2="245.4" stroke="#222" stroke-width="1.2"/>
<line x1="514.0" y1="185.8" x2="403.7" y2="215.3" stroke="#cccccc" stroke-width="0.8" stroke-dasharray="1.5,2"/>
<line x1="406.4" y1="214.6" x2="403.7" y2="215.3" stroke="#222" stroke-width="1.1"/>
<line x1="524.0" y1="183.1" x2="399.5" y2="183.1" stroke="#ababab" stroke-width="0.8"/>
<line x1="404.0" y1="183.1" x2="399.5" y2="183.1" stroke="#222" stroke-width="1.2"/>
<line x1="514.0" y1="180.4" x2="403.7" y2="150.9" stroke="#cccccc" stroke-width="0.8" stroke-dasharray="1.5,2"/>
<line x1="406.4" y1="151.6" x2="403.7" y2="150.9" stroke="#222" stroke-width="1.1"/>
<line x1="524.0" y1="183.1" x2="416.2" y2="120.8" stroke="#ababab" stroke-width="0.8"/>
<line x1="420.1" y1="123.1" x2="416.2" y2="120.8" stroke="#222" stroke-width="1.2"/>
<line x1="516.7" y1="175.8" x2="436.0" y2="95.1" stroke="#cccccc" stroke-width="0.8" stroke-dasharray="1.5,2"/>
<line x1="437.9" y1="97.0" x2="436.0" y2="95.1" stroke="#222" stroke-width="1.1"/>
<line x1="524.0" y1="183.1" x2="461.7" y2="75.3" stroke="#ababab" stroke-width="0.8"/>
<line x1="464.0" y1="79.2" x2="461.7" y2="75.3" stroke="#222" stroke-width="1.2"/>
<line x1="521.3" y1="173.1" x2="491.8" y2="62.8" stroke="#cccccc" stroke-width="0.8" stroke-dasharray="1.5,2"/>
<line x1="492.5" y1="65.5" x2="491.8" y2="62.8" stroke="#222" stroke-width="1.1"/>
<circle cx="524.0" cy="183.1" r="124.50" fill="none" stroke="#1c1c1c" stroke-width="1.3"/>
<path d="M533.8,156.1 C533.8,157.3 526.6,176.7 526.9,178.1 C527.2,179.5 536.7,169.9 537.0,170.1 C537.3,170.2 529.1,178.9 530.0,179.7 C530.9,180.4 546.0,176.8 546.2,177.1 C546.4,177.5 532.2,182.1 532.0,183.1 C531.9,184.1 544.6,186.4 544.4,186.7 C544.2,187.0 531.1,185.3 530.3,186.0 C529.4,186.7 536.6,193.3 536.3,193.4 C536.0,193.6 528.1,187.5 527.3,187.8 C526.5,188.1 529.0,196.1 528.7,196.1 C528.4,196.1 525.1,186.6 524.0,187.7 C522.9,188.8 517.7,207.5 517.5,207.5 C517.2,207.6 522.0,189.5 521.6,188.3 C521.2,187.1 514.0,195.6 513.7,195.4 C513.3,195.3 518.8,187.9 518.3,187.1 C517.9,186.2 509.6,187.4 509.6,187.0 C509.5,186.6 518.9,183.9 518.2,183.1 C517.6,182.3 502.7,178.8 502.6,178.6 C502.6,178.3 517.0,180.9 517.7,180.2 C518.5,179.5 509.7,171.6 509.9,171.3 C510.1,170.9 518.6,177.1 519.4,176.5 C520.2,176.0 517.3,165.7 517.7,165.8 C518.1,165.9 522.6,177.3 523.5,177.4 C524.4,177.4 526.0,168.2 527.0,166.1 C528.0,164.0 533.8,154.9 533.8,156.1 Z" fill="none" stroke="#6e6e6e" stroke-width="1.0" stroke-linejoin="round"/>
<path d="M535.5,175.1 C535.2,175.8 527.1,181.2 527.8,181.7 C528.4,182.3 542.8,181.3 542.9,181.4 C543.0,181.6 529.6,183.4 528.9,184.0 C528.3,184.5 535.1,188.0 534.9,188.2 C534.7,188.3 527.0,185.1 526.8,185.9 C526.6,186.7 532.6,197.7 532.5,197.8 C532.4,198.0 525.8,188.0 525.0,188.0 C524.3,188.0 523.7,198.2 523.5,198.1 C523.3,198.0 523.2,187.2 522.6,186.9 C522.1,186.5 516.7,193.8 516.5,193.7 C516.3,193.7 520.8,186.6 520.2,186.3 C519.6,186.0 509.5,190.1 509.5,189.9 C509.5,189.6 519.7,184.3 520.0,183.7 C520.3,183.0 513.2,181.8 513.1,181.6 C513.1,181.3 519.5,181.6 519.5,181.0 C519.4,180.3 512.0,174.0 512.2,173.9 C512.4,173.8 520.9,180.1 521.5,179.9 C522.1,179.8 519.4,172.1 519.5,172.0 C519.6,171.8 522.6,178.7 523.1,178.2 C523.6,177.6 525.4,165.1 525.6,165.2 C525.8,165.3 524.9,178.7 525.4,179.3 C525.8,180.0 530.0,173.6 530.9,173.3 C531.7,172.9 535.7,174.4 535.5,175.1 Z" fill="none" stroke="#c4c4c4" stroke-width="2.4" stroke-linejoin="round"/>
<path d="M535.5,175.1 C535.2,175.8 527.1,181.2 527.8,181.7 C528.4,182.3 542.8,181.3 542.9,181.4 C543.0,181.6 529.6,183.4 528.9,184.0 C528.3,184.5 535.1,188.0 534.9,188.2 C534.7,188.3 527.0,185.1 526.8,185.9 C526.6,186.7 532.6,197.7 532.5,197.8 C532.4,198.0 525.8,188.0 525.0,188.0 C524.3,188.0 523.7,198.2 523.5,198.1 C523.3,198.0 523.2,187.2 522.6,186.9 C522.1,186.5 516.7,193.8 516.5,193.7 C516.3,193.7 520.8,186.6 520.2,186.3 C519.6,186.0 509.5,190.1 509.5,189.9 C509.5,189.6 519.7,184.3 520.0,183.7 C520.3,183.0 513.2,181.8 513.1,181.6 C513.1,181.3 519.5,181.6 519.5,181.0 C519.4,180.3 512.0,174.0 512.2,173.9 C512.4,173.8 520.9,180.1 521.5,179.9 C522.1,179.8 519.4,172.1 519.5,172.0 C519.6,171.8 522.6,178.7 523.1,178.2 C523.6,177.6 525.4,165.1 525.6,165.2 C525.8,165.3 524.9,178.7 525.4,179.3 C525.8,180.0 530.0,173.6 530.9,173.3 C531.7,172.9 535.7,174.4 535.5,175.1 Z" fill="none" stroke="#fff" stroke-width="1.5" stroke-linejoin="round"/>
<path d="M511.0,137.6 C512.1,138.6 514.9,143.2 516.3,147.3 C517.7,151.4 520.2,166.2 521.6,168.3 C523.0,170.4 525.6,166.0 526.8,163.0 C528.0,160.1 529.4,148.5 530.3,146.4 C531.2,144.3 533.0,146.6 533.8,147.3 C534.6,148.0 535.3,150.9 536.4,151.6 C537.6,152.4 541.3,151.9 542.6,152.5 C543.9,153.1 545.1,154.6 546.1,156.0 C547.0,157.4 549.2,161.4 549.6,163.0 C549.9,164.7 549.4,167.4 548.7,168.3 C548.0,169.2 542.8,168.9 544.3,170.0 C545.8,171.2 559.9,175.6 560.1,177.1 C560.3,178.5 549.4,179.6 546.1,180.6 C542.8,181.5 535.6,183.0 535.6,184.1 C535.6,185.1 545.6,187.5 546.1,188.4 C546.5,189.4 539.3,189.8 539.1,191.1 C538.8,192.4 544.0,196.2 544.3,198.1 C544.7,199.9 542.9,204.6 541.7,205.1 C540.5,205.5 537.1,202.5 535.6,201.6 C534.1,200.6 531.2,196.9 530.3,198.1 C529.4,199.2 529.0,207.5 528.6,210.3 C528.1,213.1 527.7,217.7 526.8,219.1 C525.9,220.5 522.8,221.1 521.6,220.8 C520.3,220.6 518.2,219.4 517.2,217.3 C516.1,215.2 514.5,207.3 513.7,205.1 C512.9,202.9 512.3,200.7 511.0,200.7 C509.8,200.7 507.1,203.7 504.0,205.1 C501.0,206.5 490.6,211.0 488.3,211.2 C485.9,211.4 485.8,208.6 486.5,206.8 C487.2,205.1 491.7,199.9 493.5,198.1 C495.4,196.2 500.5,194.1 500.5,192.8 C500.5,191.5 496.0,189.7 493.5,188.4 C491.1,187.2 482.4,184.5 482.1,183.2 C481.9,181.9 490.8,180.3 491.8,178.8 C492.7,177.3 488.4,173.2 489.1,171.8 C489.8,170.4 497.4,169.7 497.0,168.3 C496.7,166.9 488.0,163.2 486.5,161.3 C485.0,159.4 485.2,155.8 485.6,154.3 C486.1,152.8 488.5,150.1 490.0,149.9 C491.5,149.7 494.7,151.6 497.0,152.5 C499.4,153.5 506.0,158.5 507.5,156.9 C509.1,155.3 507.9,142.8 508.4,140.3 C508.9,137.7 510.0,136.7 511.0,137.6 Z" fill="none" stroke="#151515" stroke-width="1.9" stroke-linejoin="round"/>
<path d="M500.5,155.2 C501.0,155.2 505.3,161.8 506.7,163.0 C508.0,164.3 510.6,166.1 511.9,165.7 C513.2,165.3 516.9,159.1 518.1,159.5 C519.2,159.9 520.5,168.7 521.6,169.2 C522.6,169.7 525.9,163.9 526.8,163.9 C527.7,163.9 528.0,169.9 529.4,169.2 C530.9,168.5 537.1,159.3 539.1,157.8 C541.0,156.2 545.5,154.7 546.1,156.0 C546.7,157.4 543.0,166.9 544.3,169.2 C545.7,171.4 557.3,174.2 557.5,175.3 C557.7,176.4 548.2,177.8 546.1,178.8 C543.9,179.8 539.0,182.9 539.1,184.1 C539.2,185.2 547.0,187.8 547.0,188.4 C547.0,189.1 540.3,188.5 539.1,189.3 C537.8,190.1 537.5,194.9 536.4,195.4 C535.4,196.0 531.1,192.6 530.3,193.7 C529.5,194.8 529.9,202.7 529.4,205.1 C528.9,207.4 526.9,212.8 525.9,213.8 C525.0,214.9 522.7,214.8 521.6,213.8 C520.4,212.9 517.3,208.0 516.3,206.0 C515.3,203.9 514.6,197.0 512.8,196.3 C511.0,195.6 503.5,198.7 500.5,199.8 C497.6,200.9 489.1,205.8 487.4,206.0 C485.7,206.2 485.1,202.7 485.6,201.6 C486.2,200.5 488.2,198.5 491.8,196.3 C495.4,194.2 515.3,185.2 516.3,183.2 C517.3,181.1 503.7,179.7 500.5,178.8 C497.4,177.9 490.2,176.3 489.1,175.3 C488.1,174.3 489.2,170.6 491.8,170.0 C494.3,169.5 509.0,171.2 511.0,170.9 C513.1,170.6 510.3,168.3 509.3,167.4 C508.3,166.5 503.3,164.5 502.3,163.0 C501.3,161.6 500.0,155.2 500.5,155.2 Z" fill="none" stroke="#1f1fff" stroke-width="1.6" stroke-linejoin="round"/>
<circle cx="490.4" cy="143.4" r="4.1" fill="#fff" stroke="#a8a8a8" stroke-width="0.8"/>
<circle cx="575.0" cy="174.4" r="4.1" fill="#fff" stroke="#a8a8a8" stroke-width="0.8"/>
<circle cx="551.3" cy="198.9" r="4.1" fill="#fff" stroke="#a8a8a8" stroke-width="0.8"/>
<circle cx="530.3" cy="200.7" r="4.1" fill="#fff" stroke="#a8a8a8" stroke-width="0.8"/>
<circle cx="512.8" cy="212.1" r="4.1" fill="#fff" stroke="#a8a8a8" stroke-width="0.8"/>
<circle cx="523.8" cy="175.6" r="4.1" fill="#fff" stroke="#a8a8a8" stroke-width="0.8"/>
<circle cx="529.4" cy="182.7" r="4.1" fill="#fff" stroke="#a8a8a8" stroke-width="0.8"/>
<circle cx="501.4" cy="179.7" r="4.1" fill="#fff" stroke="#a8a8a8" stroke-width="0.8"/>
<circle cx="493.5" cy="199.8" r="4.1" fill="#fff" stroke="#a8a8a8" stroke-width="0.8"/>
<polygon points="522.4,180.7 519.3,186.1 525.6,186.1" fill="#fff" stroke="#5a5aff" stroke-width="0.7" stroke-linejoin="round"/>
<polygon points="539.1,186.0 535.9,191.4 542.2,191.4" fill="#fff" stroke="#5a5aff" stroke-width="0.7" stroke-linejoin="round"/>
<polygon points="481.3,202.7 476.6,210.8 486.0,210.8" fill="#fff" stroke="#7a7aff" stroke-width="0.8" stroke-linejoin="round"/>
<path d="M524.6,69.9 L542.8,74.9 L560.3,83.8 L574.6,96.1 L588.5,107.6 L598.8,120.5 L603.4,137.0 L600.8,155.3 L600.4,169.8 L596.4,182.1 L591.9,194.5 L587.1,206.4 L582.5,216.7 L572.0,224.3 L564.3,230.6 L559.7,245.5 L549.8,252.4 L535.5,248.9 L524.0,255.4 L513.1,244.5 L501.2,247.5 L490.3,240.5 L484.3,230.2 L470.4,226.6 L464.5,217.7 L458.5,206.8 L453.6,195.3 L446.6,183.0 L445.6,169.2 L453.6,142.4 L451.6,122.5 L461.5,108.6 L469.0,87.8 L486.9,80.8 L505.2,74.9 Z" fill="none" stroke="#808000" stroke-width="1.8" stroke-linejoin="round"/>
<circle cx="524.6" cy="69.9" r="4.9" fill="#808000" stroke="none" stroke-width="0"/>
<circle cx="542.8" cy="74.9" r="4.9" fill="#808000" stroke="none" stroke-width="0"/>
<circle cx="560.3" cy="83.8" r="4.9" fill="#808000" stroke="none" stroke-width="0"/>
<circle cx="574.6" cy="96.1" r="4.9" fill="#808000" stroke="none" stroke-width="0"/>
<circle cx="588.5" cy="107.6" r="4.9" fill="#808000" stroke="none" stroke-width="0"/>
<circle cx="598.8" cy="120.5" r="4.9" fill="#808000" stroke="none" stroke-width="0"/>
<circle cx="603.4" cy="137.0" r="4.9" fill="#808000" stroke="none" stroke-width="0"/>
<circle cx="600.8" cy="155.3" r="4.9" fill="#808000" stroke="none" stroke-width="0"/>
<circle cx="600.4" cy="169.8" r="4.9" fill="#808000" stroke="none" stroke-width="0"/>
<circle cx="596.4" cy="182.1" r="4.9" fill="#808000" stroke="none" stroke-width="0"/>
<circle cx="591.9" cy="194.5" r="4.9" fill="#808000" stroke="none" stroke-width="0"/>
<circle cx="587.1" cy="206.4" r="4.9" fill="#808000" stroke="none" stroke-width="0"/>
<circle cx="582.5" cy="216.7" r="4.9" fill="#808000" stroke="none" stroke-width="0"/>
<circle cx="572.0" cy="224.3" r="4.9" fill="#808000" stroke="none" stroke-width="0"/>
<circle cx="564.3" cy="230.6" r="4.9" fill="#808000" stroke="none" stroke-width="0"/>
<circle cx="559.7" cy="245.5" r="4.9" fill="#808000" stroke="none" stroke-width="0"/>
<circle cx="549.8" cy="252.4" r="4.9" fill="#808000" stroke="none" stroke-width="0"/>
<circle cx="535.5" cy="248.9" r="4.9" fill="#808000" stroke="none" stroke-width="0"/>
<circle cx="524.0" cy="255.4" r="4.9" fill="#808000" stroke="none" stroke-width="0"/>
<circle cx="513.1" cy="244.5" r="4.9" fill="#808000" stroke="none" stroke-width="0"/>
<circle cx="501.2" cy="247.5" r="4.9" fill="#808000" stroke="none" stroke-width="0"/>
<circle cx="490.3" cy="240.5" r="4.9" fill="#808000" stroke="none" stroke-width="0"/>
<circle cx="484.3" cy="230.2" r="4.9" fill="#808000" stroke="none" stroke-width="0"/>
<circle cx="470.4" cy="226.6" r="4.9" fill="#808000" stroke="none" stroke-width="0"/>
<circle cx="464.5" cy="217.7" r="4.9" fill="#808000" stroke="none" stroke-width="0"/>
<circle cx="458.5" cy="206.8" r="4.9" fill="#808000" stroke="none" stroke-width="0"/>
<circle cx="453.6" cy="195.3" r="4.9" fill="#808000" stroke="none" stroke-width="0"/>
<circle cx="446.6" cy="183.0" r="4.9" fill="#808000" stroke="none" stroke-width="0"/>
<circle cx="445.6" cy="169.2" r="4.9" fill="#808000" stroke="none" stroke-width="0"/>
<circle cx="453.6" cy="142.4" r="4.9" fill="#808000" stroke="none" stroke-width="0"/>
<circle cx="451.6" cy="122.5" r="4.9" fill="#808000" stroke="none" stroke-width="0"/>
<circle cx="461.5" cy="108.6" r="4.9" fill="#808000" stroke="none" stroke-width="0"/>
<circle cx="469.0" cy="87.8" r="4.9" fill="#808000" stroke="none" stroke-width="0"/>
<circle cx="486.9" cy="80.8" r="4.9" fill="#808000" stroke="none" stroke-width="0"/>
<circle cx="505.2" cy="74.9" r="4.9" fill="#808000" stroke="none" stroke-width="0"/>
<path d="M524.6,65.9 C531.0,65.3 537.8,67.6 543.8,69.9 C549.8,72.2 555.2,76.2 560.7,79.8 C566.1,83.5 571.6,87.8 576.6,91.7 C581.5,95.7 586.7,99.2 590.5,103.6 C594.3,108.1 595.1,114.1 599.4,118.5 C603.7,122.9 613.0,125.2 616.3,130.0 C619.6,134.9 618.8,141.7 619.3,147.9 C619.8,154.1 621.1,161.5 619.3,167.2 C617.4,172.9 611.8,177.3 608.3,182.1 C604.9,186.8 601.9,191.8 598.4,195.9 C594.9,199.9 588.8,202.4 587.5,206.4 C586.2,210.4 592.5,216.5 590.5,219.7 C588.5,222.9 578.9,222.5 575.6,225.6 C572.3,228.8 572.4,233.9 570.6,238.5 C568.9,243.2 567.7,249.3 565.1,253.4 C562.4,257.6 559.1,260.8 554.7,263.4 C550.4,265.9 543.9,268.2 538.8,268.7 C533.8,269.2 529.0,269.5 524.6,266.3 C520.1,263.2 516.7,252.4 512.1,250.1 C507.6,247.7 502.4,251.8 497.2,252.4 C492.1,253.1 485.8,255.2 481.4,254.0 C476.9,252.9 473.9,248.6 470.4,245.5 C467.0,242.4 462.6,240.0 460.5,235.6 C458.4,231.2 459.7,223.2 457.9,219.1 C456.1,215.0 452.6,214.6 449.6,210.8 C446.5,206.9 441.8,200.7 439.7,195.9 C437.5,191.1 437.0,186.4 436.7,182.0 C436.4,177.5 436.8,176.8 438.1,169.2 C439.4,161.6 442.7,144.5 444.6,136.4 C446.5,128.3 446.9,125.3 449.6,120.5 C452.2,115.7 456.5,111.9 460.5,107.6 C464.5,103.3 468.8,98.7 473.4,94.7 C478.0,90.7 483.0,87.3 488.3,83.8 C493.6,80.3 499.1,76.8 505.2,73.9 C511.2,70.9 518.1,66.6 524.6,65.9 Z" fill="none" stroke="#00ffff" stroke-width="1.9" stroke-linejoin="round"/>
<polygon points="524.6,60.4 519.4,69.4 529.7,69.4" fill="#00ffff" stroke="none" stroke-width="0" stroke-linejoin="round"/>
<polygon points="543.8,64.3 538.6,73.3 549.0,73.3" fill="#00ffff" stroke="none" stroke-width="0" stroke-linejoin="round"/>
<polygon points="560.7,74.3 555.5,83.3 565.9,83.3" fill="#00ffff" stroke="none" stroke-width="0" stroke-linejoin="round"/>
<polygon points="576.6,86.2 571.4,95.2 581.8,95.2" fill="#00ffff" stroke="none" stroke-width="0" stroke-linejoin="round"/>
<polygon points="590.5,98.1 585.3,107.1 595.7,107.1" fill="#00ffff" stroke="none" stroke-width="0" stroke-linejoin="round"/>
<polygon points="599.4,113.0 594.2,122.0 604.6,122.0" fill="#00ffff" stroke="none" stroke-width="0" stroke-linejoin="round"/>
<polygon points="616.3,124.5 611.1,133.5 621.5,133.5" fill="#00ffff" stroke="none" stroke-width="0" stroke-linejoin="round"/>
<polygon points="619.3,142.4 614.1,151.4 624.4,151.4" fill="#00ffff" stroke="none" stroke-width="0" stroke-linejoin="round"/>
<polygon points="619.3,161.6 614.1,170.6 624.4,170.6" fill="#00ffff" stroke="none" stroke-width="0" stroke-linejoin="round"/>
<polygon points="608.3,176.5 603.1,185.5 613.5,185.5" fill="#00ffff" stroke="none" stroke-width="0" stroke-linejoin="round"/>
<polygon points="598.4,190.3 593.2,199.3 603.6,199.3" fill="#00ffff" stroke="none" stroke-width="0" stroke-linejoin="round"/>
<polygon points="587.5,200.8 582.3,209.8 592.7,209.8" fill="#00ffff" stroke="none" stroke-width="0" stroke-linejoin="round"/>
<polygon points="590.5,214.1 585.3,223.1 595.7,223.1" fill="#00ffff" stroke="none" stroke-width="0" stroke-linejoin="round"/>
<polygon points="575.6,220.1 570.4,229.1 580.8,229.1" fill="#00ffff" stroke="none" stroke-width="0" stroke-linejoin="round"/>
<polygon points="570.6,233.0 565.4,242.0 575.8,242.0" fill="#00ffff" stroke="none" stroke-width="0" stroke-linejoin="round"/>
<polygon points="565.1,247.9 559.9,256.9 570.2,256.9" fill="#00ffff" stroke="none" stroke-width="0" stroke-linejoin="round"/>
<polygon points="554.7,257.8 549.5,266.8 559.9,266.8" fill="#00ffff" stroke="none" stroke-width="0" stroke-linejoin="round"/>
<polygon points="538.8,263.2 533.7,272.2 544.0,272.2" fill="#00ffff" stroke="none" stroke-width="0" stroke-linejoin="round"/>
<polygon points="524.6,260.8 519.4,269.8 529.7,269.8" fill="#00ffff" stroke="none" stroke-width="0" stroke-linejoin="round"/>
<polygon points="512.1,244.5 506.9,253.5 517.3,253.5" fill="#00ffff" stroke="none" stroke-width="0" stroke-linejoin="round"/>
<polygon points="497.2,246.9 492.0,255.9 502.4,255.9" fill="#00ffff" stroke="none" stroke-width="0" stroke-linejoin="round"/>
<polygon points="481.4,248.5 476.2,257.5 486.6,257.5" fill="#00ffff" stroke="none" stroke-width="0" stroke-linejoin="round"/>
<polygon points="470.4,239.9 465.2,248.9 475.6,248.9" fill="#00ffff" stroke="none" stroke-width="0" stroke-linejoin="round"/>
<polygon points="460.5,230.0 455.3,239.0 465.7,239.0" fill="#00ffff" stroke="none" stroke-width="0" stroke-linejoin="round"/>
<polygon points="457.9,213.5 452.7,222.5 463.1,222.5" fill="#00ffff" stroke="none" stroke-width="0" stroke-linejoin="round"/>
<polygon points="449.6,205.2 444.4,214.2 454.8,214.2" fill="#00ffff" stroke="none" stroke-width="0" stroke-linejoin="round"/>
<polygon points="439.7,190.3 434.5,199.3 444.9,199.3" fill="#00ffff" stroke="none" stroke-width="0" stroke-linejoin="round"/>
<polygon points="436.7,176.4 431.5,185.4 441.9,185.4" fill="#00ffff" stroke="none" stroke-width="0" stroke-linejoin="round"/>
<polygon points="438.1,163.6 432.9,172.6 443.3,172.6" fill="#00ffff" stroke="none" stroke-width="0" stroke-linejoin="round"/>
<polygon points="444.6,130.8 439.4,139.8 449.8,139.8" fill="#00ffff" stroke="none" stroke-width="0" stroke-linejoin="round"/>
<polygon points="449.6,115.0 444.4,124.0 454.8,124.0" fill="#00ffff" stroke="none" stroke-width="0" stroke-linejoin="round"/>
<polygon points="460.5,102.0 455.3,111.1 465.7,111.1" fill="#00ffff" stroke="none" stroke-width="0" stroke-linejoin="round"/>
<polygon points="473.4,89.1 468.2,98.2 478.6,98.2" fill="#00ffff" stroke="none" stroke-width="0" stroke-linejoin="round"/>
<polygon points="488.3,78.2 483.1,87.2 493.5,87.2" fill="#00ffff" stroke="none" stroke-width="0" stroke-linejoin="round"/>
<polygon points="505.2,68.3 500.0,77.3 510.4,77.3" fill="#00ffff" stroke="none" stroke-width="0" stroke-linejoin="round"/>
<path d="M524.6,62.5 C535.0,62.0 534.5,64.2 544.8,65.9 C555.1,67.7 556.6,64.5 565.6,69.5 C574.7,74.5 573.3,78.7 580.9,85.8 C588.5,92.8 588.9,91.1 596.0,97.7 C603.1,104.3 602.5,104.9 609.3,112.2 C616.1,119.5 619.0,118.3 623.2,126.9 C627.4,135.4 626.8,136.5 626.2,146.3 C625.6,156.2 623.5,156.9 620.6,166.2 C617.8,175.5 616.8,175.6 614.7,183.7 C612.6,191.7 615.1,191.3 612.3,198.4 C609.5,205.6 607.4,205.8 603.4,212.3 C599.3,218.9 602.0,220.2 596.0,224.6 C590.1,229.1 585.4,226.1 579.5,230.2 C573.7,234.3 576.2,235.0 572.6,240.9 C569.0,246.9 570.5,250.3 565.1,254.0 C559.6,257.8 557.7,254.2 550.8,255.8 C543.8,257.4 543.8,257.4 537.3,260.4 C530.7,263.4 531.4,267.3 524.6,267.9 C517.7,268.5 516.2,266.7 509.7,262.8 C503.3,258.8 503.9,256.9 498.8,252.0 C493.7,247.2 494.4,247.1 489.3,243.5 C484.2,239.9 484.3,240.5 478.4,237.6 C472.4,234.6 471.9,234.9 465.5,231.6 C459.0,228.3 455.9,230.0 452.6,224.3 C449.2,218.5 455.2,215.5 452.2,208.8 C449.1,202.1 445.9,203.9 440.3,197.4 C434.7,191.0 431.7,190.5 429.7,183.0 C427.8,175.4 432.1,175.6 432.3,167.2 C432.6,158.7 429.9,157.8 430.7,149.1 C431.6,140.4 432.2,140.5 435.7,132.4 C439.2,124.4 439.2,123.9 444.6,116.9 C450.1,110.0 451.1,111.0 457.5,104.6 C464.0,98.2 463.3,97.7 470.4,91.3 C477.5,85.0 477.7,85.1 485.9,79.2 C494.1,73.4 493.5,72.1 503.2,67.9 C512.9,63.7 514.2,63.0 524.6,62.5 Z" fill="none" stroke="#00008b" stroke-width="1.9" stroke-linejoin="round"/>
<polygon points="524.6,58.6 528.3,61.3 526.8,65.7 522.3,65.7 520.8,61.3" fill="#00008b" stroke="none" stroke-width="0" stroke-linejoin="round"/>
<polygon points="544.8,62.0 548.5,64.7 547.1,69.1 542.5,69.1 541.1,64.7" fill="#00008b" stroke="none" stroke-width="0" stroke-linejoin="round"/>
<polygon points="565.6,65.6 569.4,68.3 567.9,72.6 563.4,72.6 561.9,68.3" fill="#00008b" stroke="none" stroke-width="0" stroke-linejoin="round"/>
<polygon points="580.9,81.9 584.6,84.6 583.2,88.9 578.6,88.9 577.2,84.6" fill="#00008b" stroke="none" stroke-width="0" stroke-linejoin="round"/>
<polygon points="596.0,93.8 599.7,96.5 598.3,100.8 593.7,100.8 592.3,96.5" fill="#00008b" stroke="none" stroke-width="0" stroke-linejoin="round"/>
<polygon points="609.3,108.3 613.0,111.0 611.6,115.3 607.0,115.3 605.6,111.0" fill="#00008b" stroke="none" stroke-width="0" stroke-linejoin="round"/>
<polygon points="623.2,123.0 626.9,125.7 625.5,130.0 620.9,130.0 619.5,125.7" fill="#00008b" stroke="none" stroke-width="0" stroke-linejoin="round"/>
<polygon points="626.2,142.4 629.9,145.1 628.5,149.5 623.9,149.5 622.5,145.1" fill="#00008b" stroke="none" stroke-width="0" stroke-linejoin="round"/>
<polygon points="620.6,162.3 624.4,165.0 622.9,169.3 618.4,169.3 616.9,165.0" fill="#00008b" stroke="none" stroke-width="0" stroke-linejoin="round"/>
<polygon points="614.7,179.8 618.4,182.4 617.0,186.8 612.4,186.8 611.0,182.4" fill="#00008b" stroke="none" stroke-width="0" stroke-linejoin="round"/>
<polygon points="612.3,194.5 616.0,197.2 614.6,201.6 610.0,201.6 608.6,197.2" fill="#00008b" stroke="none" stroke-width="0" stroke-linejoin="round"/>
<polygon points="603.4,208.4 607.1,211.1 605.7,215.5 601.1,215.5 599.7,211.1" fill="#00008b" stroke="none" stroke-width="0" stroke-linejoin="round"/>
<polygon points="596.0,220.7 599.7,223.4 598.3,227.8 593.7,227.8 592.3,223.4" fill="#00008b" stroke="none" stroke-width="0" stroke-linejoin="round"/>
<polygon points="579.5,226.3 583.3,229.0 581.8,233.4 577.3,233.4 575.8,229.0" fill="#00008b" stroke="none" stroke-width="0" stroke-linejoin="round"/>
<polygon points="572.6,237.0 576.3,239.7 574.9,244.1 570.3,244.1 568.9,239.7" fill="#00008b" stroke="none" stroke-width="0" stroke-linejoin="round"/>
<polygon points="565.1,250.1 568.8,252.8 567.3,257.2 562.8,257.2 561.3,252.8" fill="#00008b" stroke="none" stroke-width="0" stroke-linejoin="round"/>
<polygon points="550.8,251.9 554.5,254.6 553.1,259.0 548.5,259.0 547.1,254.6" fill="#00008b" stroke="none" stroke-width="0" stroke-linejoin="round"/>
<polygon points="537.3,256.5 541.0,259.2 539.6,263.5 535.0,263.5 533.5,259.2" fill="#00008b" stroke="none" stroke-width="0" stroke-linejoin="round"/>
<polygon points="524.6,264.0 528.3,266.7 526.8,271.1 522.3,271.1 520.8,266.7" fill="#00008b" stroke="none" stroke-width="0" stroke-linejoin="round"/>
<polygon points="509.7,258.9 513.5,261.6 512.0,265.9 507.5,265.9 506.0,261.6" fill="#00008b" stroke="none" stroke-width="0" stroke-linejoin="round"/>
<polygon points="498.8,248.1 502.5,250.8 501.1,255.2 496.5,255.2 495.1,250.8" fill="#00008b" stroke="none" stroke-width="0" stroke-linejoin="round"/>
<polygon points="489.3,239.6 493.0,242.3 491.6,246.7 487.0,246.7 485.6,242.3" fill="#00008b" stroke="none" stroke-width="0" stroke-linejoin="round"/>
<polygon points="478.4,233.7 482.1,236.3 480.7,240.7 476.1,240.7 474.7,236.3" fill="#00008b" stroke="none" stroke-width="0" stroke-linejoin="round"/>
<polygon points="465.5,227.7 469.2,230.4 467.8,234.8 463.2,234.8 461.8,230.4" fill="#00008b" stroke="none" stroke-width="0" stroke-linejoin="round"/>
<polygon points="452.6,220.4 456.3,223.0 454.9,227.4 450.3,227.4 448.9,223.0" fill="#00008b" stroke="none" stroke-width="0" stroke-linejoin="round"/>
<polygon points="452.2,204.9 455.9,207.6 454.5,211.9 449.9,211.9 448.5,207.6" fill="#00008b" stroke="none" stroke-width="0" stroke-linejoin="round"/>
<polygon points="440.3,193.5 444.0,196.2 442.6,200.6 438.0,200.6 436.6,196.2" fill="#00008b" stroke="none" stroke-width="0" stroke-linejoin="round"/>
<polygon points="429.7,179.1 433.4,181.8 432.0,186.1 427.4,186.1 426.0,181.8" fill="#00008b" stroke="none" stroke-width="0" stroke-linejoin="round"/>
<polygon points="432.3,163.3 436.0,166.0 434.6,170.3 430.0,170.3 428.6,166.0" fill="#00008b" stroke="none" stroke-width="0" stroke-linejoin="round"/>
<polygon points="435.7,128.5 439.4,131.2 438.0,135.6 433.4,135.6 432.0,131.2" fill="#00008b" stroke="none" stroke-width="0" stroke-linejoin="round"/>
<polygon points="444.6,113.0 448.3,115.7 446.9,120.1 442.3,120.1 440.9,115.7" fill="#00008b" stroke="none" stroke-width="0" stroke-linejoin="round"/>
<polygon points="457.5,100.7 461.2,103.4 459.8,107.8 455.2,107.8 453.8,103.4" fill="#00008b" stroke="none" stroke-width="0" stroke-linejoin="round"/>
<polygon points="470.4,87.4 474.1,90.1 472.7,94.5 468.1,94.5 466.7,90.1" fill="#00008b" stroke="none" stroke-width="0" stroke-linejoin="round"/>
<polygon points="485.9,75.3 489.6,78.0 488.2,82.4 483.6,82.4 482.2,78.0" fill="#00008b" stroke="none" stroke-width="0" stroke-linejoin="round"/>
<polygon points="503.2,64.0 506.9,66.7 505.5,71.1 500.9,71.1 499.5,66.7" fill="#00008b" stroke="none" stroke-width="0" stroke-linejoin="round"/>
</g>
<g id="plot-c">
<circle cx="168.5" cy="530.0" r="10.55" fill="none" stroke="#dadada" stroke-width="0.8"/>
<circle cx="168.5" cy="530.0" r="21.10" fill="none" stroke="#b4b4b4" stroke-width="0.8"/>
<circle cx="168.5" cy="530.0" r="31.65" fill="none" stroke="#dadada" stroke-width="0.8"/>
<circle cx="168.5" cy="530.0" r="42.20" fill="none" stroke="#b4b4b4" stroke-width="0.8"/>
<circle cx="168.5" cy="530.0" r="52.75" fill="none" stroke="#dadada" stroke-width="0.8"/>
<circle cx="168.5" cy="530.0" r="63.30" fill="none" stroke="#b4b4b4" stroke-width="0.8"/>
<circle cx="168.5" cy="530.0" r="73.85" fill="none" stroke="#dadada" stroke-width="0.8"/>
<circle cx="168.5" cy="530.0" r="84.40" fill="none" stroke="#b4b4b4" stroke-width="0.8"/>
<circle cx="168.5" cy="530.0" r="94.95" fill="none" stroke="#dadada" stroke-width="0.8"/>
<circle cx="168.5" cy="530.0" r="105.50" fill="none" stroke="#b4b4b4" stroke-width="0.8"/>
<circle cx="168.5" cy="530.0" r="116.05" fill="none" stroke="#dadada" stroke-width="0.8"/>
<line x1="168.5" y1="530.0" x2="168.5" y2="403.4" stroke="#ababab" stroke-width="0.8"/>
<line x1="168.5" y1="407.9" x2="168.5" y2="403.4" stroke="#222" stroke-width="1.2"/>
<line x1="171.2" y1="519.8" x2="201.3" y2="407.7" stroke="#cccccc" stroke-width="0.8" stroke-dasharray="1.5,2"/>
<line x1="200.5" y1="410.4" x2="201.3" y2="407.7" stroke="#222" stroke-width="1.1"/>
<line x1="168.5" y1="530.0" x2="231.8" y2="420.4" stroke="#ababab" stroke-width="0.8"/>
<line x1="229.5" y1="424.3" x2="231.8" y2="420.4" stroke="#222" stroke-width="1.2"/>
<line x1="176.0" y1="522.5" x2="258.0" y2="440.5" stroke="#cccccc" stroke-width="0.8" stroke-dasharray="1.5,2"/>
<line x1="256.0" y1="442.5" x2="258.0" y2="440.5" stroke="#222" stroke-width="1.1"/>
<line x1="168.5" y1="530.0" x2="278.1" y2="466.7" stroke="#ababab" stroke-width="0.8"/>
<line x1="274.2" y1="468.9" x2="278.1" y2="466.7" stroke="#222" stroke-width="1.2"/>
<line x1="178.7" y1="527.3" x2="290.8" y2="497.2" stroke="#cccccc" stroke-width="0.8" stroke-dasharray="1.5,2"/>
<line x1="288.1" y1="498.0" x2="290.8" y2="497.2" stroke="#222" stroke-width="1.1"/>
<line x1="168.5" y1="530.0" x2="295.1" y2="530.0" stroke="#ababab" stroke-width="0.8"/>
<line x1="290.6" y1="530.0" x2="295.1" y2="530.0" stroke="#222" stroke-width="1.2"/>
<line x1="178.7" y1="532.7" x2="290.8" y2="562.8" stroke="#cccccc" stroke-width="0.8" stroke-dasharray="1.5,2"/>
<line x1="288.1" y1="562.0" x2="290.8" y2="562.8" stroke="#222" stroke-width="1.1"/>
<line x1="168.5" y1="530.0" x2="278.1" y2="593.3" stroke="#ababab" stroke-width="0.8"/>
<line x1="274.2" y1="591.0" x2="278.1" y2="593.3" stroke="#222" stroke-width="1.2"/>
<line x1="176.0" y1="537.5" x2="258.0" y2="619.5" stroke="#cccccc" stroke-width="0.8" stroke-dasharray="1.5,2"/>
<line x1="256.0" y1="617.5" x2="258.0" y2="619.5" stroke="#222" stroke-width="1.1"/>
<line x1="168.5" y1="530.0" x2="231.8" y2="639.6" stroke="#ababab" stroke-width="0.8"/>
<line x1="229.5" y1="635.7" x2="231.8" y2="639.6" stroke="#222" stroke-width="1.2"/>
<line x1="171.2" y1="540.2" x2="201.3" y2="652.3" stroke="#cccccc" stroke-width="0.8" stroke-dasharray="1.5,2"/>
<line x1="200.5" y1="649.6" x2="201.3" y2="652.3" stroke="#222" stroke-width="1.1"/>
<line x1="168.5" y1="530.0" x2="168.5" y2="656.6" stroke="#ababab" stroke-width="0.8"/>
<line x1="168.5" y1="652.1" x2="168.5" y2="656.6" stroke="#222" stroke-width="1.2"/>
<line x1="165.8" y1="540.2" x2="135.7" y2="652.3" stroke="#cccccc" stroke-width="0.8" stroke-dasharray="1.5,2"/>
<line x1="136.5" y1="649.6" x2="135.7" y2="652.3" stroke="#222" stroke-width="1.1"/>
<line x1="168.5" y1="530.0" x2="105.2" y2="639.6" stroke="#ababab" stroke-width="0.8"/>
<line x1="107.4" y1="635.7" x2="105.2" y2="639.6" stroke="#222" stroke-width="1.2"/>
<line x1="161.0" y1="537.5" x2="79.0" y2="619.5" stroke="#cccccc" stroke-width="0.8" stroke-dasharray="1.5,2"/>
<line x1="81.0" y1="617.5" x2="79.0" y2="619.5" stroke="#222" stroke-width="1.1"/>
<line x1="168.5" y1="530.0" x2="58.9" y2="593.3" stroke="#ababab" stroke-width="0.8"/>
<line x1="62.8" y1="591.1" x2="58.9" y2="593.3" stroke="#222" stroke-width="1.2"/>
<line x1="158.3" y1="532.7" x2="46.2" y2="562.8" stroke="#cccccc" stroke-width="0.8" stroke-dasharray="1.5,2"/>
<line x1="48.9" y1="562.0" x2="46.2" y2="562.8" stroke="#222" stroke-width="1.1"/>
<line x1="168.5" y1="530.0" x2="41.9" y2="530.0" stroke="#ababab" stroke-width="0.8"/>
<line x1="46.4" y1="530.0" x2="41.9" y2="530.0" stroke="#222" stroke-width="1.2"/>
<line x1="158.3" y1="527.3" x2="46.2" y2="497.2" stroke="#cccccc" stroke-width="0.8" stroke-dasharray="1.5,2"/>
<line x1="48.9" y1="498.0" x2="46.2" y2="497.2" stroke="#222" stroke-width="1.1"/>
<line x1="168.5" y1="530.0" x2="58.9" y2="466.7" stroke="#ababab" stroke-width="0.8"/>
<line x1="62.8" y1="468.9" x2="58.9" y2="466.7" stroke="#222" stroke-width="1.2"/>
<line x1="161.0" y1="522.5" x2="79.0" y2="440.5" stroke="#cccccc" stroke-width="0.8" stroke-dasharray="1.5,2"/>
<line x1="81.0" y1="442.5" x2="79.0" y2="440.5" stroke="#222" stroke-width="1.1"/>
<line x1="168.5" y1="530.0" x2="105.2" y2="420.4" stroke="#ababab" stroke-width="0.8"/>
<line x1="107.4" y1="424.3" x2="105.2" y2="420.4" stroke="#222" stroke-width="1.2"/>
<line x1="165.8" y1="519.8" x2="135.7" y2="407.7" stroke="#cccccc" stroke-width="0.8" stroke-dasharray="1.5,2"/>
<line x1="136.5" y1="410.4" x2="135.7" y2="407.7" stroke="#222" stroke-width="1.1"/>
<circle cx="168.5" cy="530.0" r="126.60" fill="none" stroke="#1c1c1c" stroke-width="1.3"/>
<path d="M178.3,503.0 C178.3,504.2 171.1,523.6 171.4,525.0 C171.7,526.4 181.2,516.8 181.5,517.0 C181.8,517.1 173.6,525.8 174.5,526.5 C175.4,527.3 190.5,523.7 190.7,524.0 C190.9,524.4 176.7,529.0 176.6,530.0 C176.4,531.0 189.1,533.3 188.9,533.6 C188.7,533.9 175.6,532.2 174.8,532.9 C173.9,533.6 181.1,540.2 180.8,540.3 C180.5,540.5 172.6,534.4 171.8,534.7 C171.0,535.0 173.5,543.0 173.2,543.0 C172.9,543.0 169.6,533.5 168.5,534.6 C167.4,535.7 162.2,554.4 162.0,554.4 C161.7,554.5 166.5,536.4 166.1,535.2 C165.7,534.0 158.5,542.5 158.2,542.3 C157.8,542.2 163.3,534.8 162.8,534.0 C162.4,533.1 154.1,534.3 154.1,533.9 C154.0,533.5 163.4,530.8 162.8,530.0 C162.1,529.2 147.2,525.7 147.1,525.5 C147.1,525.2 161.5,527.8 162.2,527.1 C163.0,526.4 154.2,518.5 154.4,518.2 C154.6,517.8 163.1,524.0 163.9,523.4 C164.7,522.9 161.8,512.6 162.2,512.7 C162.6,512.8 167.1,524.2 168.0,524.3 C168.9,524.3 170.5,515.1 171.5,513.0 C172.5,510.9 178.3,501.8 178.3,503.0 Z" fill="none" stroke="#6e6e6e" stroke-width="1.0" stroke-linejoin="round"/>
<path d="M180.0,522.0 C179.7,522.7 171.6,528.1 172.3,528.6 C172.9,529.2 187.3,528.2 187.4,528.3 C187.5,528.5 174.1,530.3 173.4,530.9 C172.8,531.4 179.6,534.9 179.4,535.1 C179.2,535.2 171.5,532.0 171.3,532.8 C171.1,533.6 177.1,544.6 177.0,544.7 C176.9,544.9 170.3,534.9 169.5,534.9 C168.8,534.9 168.2,545.1 168.0,545.0 C167.8,544.9 167.7,534.1 167.1,533.8 C166.6,533.4 161.2,540.7 161.0,540.6 C160.8,540.6 165.3,533.5 164.7,533.2 C164.1,532.9 154.0,537.0 154.0,536.8 C154.0,536.5 164.2,531.2 164.5,530.6 C164.8,529.9 157.7,528.7 157.6,528.5 C157.6,528.2 164.0,528.5 164.0,527.9 C163.9,527.2 156.5,520.9 156.7,520.8 C156.9,520.7 165.4,527.0 166.0,526.8 C166.6,526.7 163.9,519.0 164.0,518.9 C164.1,518.7 167.1,525.6 167.6,525.1 C168.1,524.5 169.9,512.0 170.1,512.1 C170.3,512.2 169.4,525.6 169.9,526.2 C170.3,526.9 174.5,520.5 175.4,520.2 C176.2,519.8 180.2,521.3 180.0,522.0 Z" fill="none" stroke="#c4c4c4" stroke-width="2.4" stroke-linejoin="round"/>
<path d="M180.0,522.0 C179.7,522.7 171.6,528.1 172.3,528.6 C172.9,529.2 187.3,528.2 187.4,528.3 C187.5,528.5 174.1,530.3 173.4,530.9 C172.8,531.4 179.6,534.9 179.4,535.1 C179.2,535.2 171.5,532.0 171.3,532.8 C171.1,533.6 177.1,544.6 177.0,544.7 C176.9,544.9 170.3,534.9 169.5,534.9 C168.8,534.9 168.2,545.1 168.0,545.0 C167.8,544.9 167.7,534.1 167.1,533.8 C166.6,533.4 161.2,540.7 161.0,540.6 C160.8,540.6 165.3,533.5 164.7,533.2 C164.1,532.9 154.0,537.0 154.0,536.8 C154.0,536.5 164.2,531.2 164.5,530.6 C164.8,529.9 157.7,528.7 157.6,528.5 C157.6,528.2 164.0,528.5 164.0,527.9 C163.9,527.2 156.5,520.9 156.7,520.8 C156.9,520.7 165.4,527.0 166.0,526.8 C166.6,526.7 163.9,519.0 164.0,518.9 C164.1,518.7 167.1,525.6 167.6,525.1 C168.1,524.5 169.9,512.0 170.1,512.1 C170.3,512.2 169.4,525.6 169.9,526.2 C170.3,526.9 174.5,520.5 175.4,520.2 C176.2,519.8 180.2,521.3 180.0,522.0 Z" fill="none" stroke="#fff" stroke-width="1.5" stroke-linejoin="round"/>
<path d="M164.9,484.9 C166.2,482.3 169.3,486.6 170.2,489.3 C171.1,492.0 171.2,503.3 171.9,505.0 C172.6,506.8 173.9,503.0 175.4,502.4 C177.0,501.8 179.6,500.9 183.3,500.7 C187.1,500.4 201.4,499.5 203.5,500.7 C205.6,501.8 200.8,507.7 199.1,509.4 C197.3,511.2 192.2,512.0 190.3,513.8 C188.5,515.5 182.9,521.0 185.1,522.6 C187.3,524.1 204.6,524.0 207.0,525.2 C209.3,526.4 204.8,530.3 202.6,531.3 C200.4,532.4 189.2,531.8 190.3,533.1 C191.5,534.4 208.7,539.4 211.4,540.9 C214.0,542.5 212.6,544.2 210.5,544.5 C208.4,544.7 199.0,543.3 195.6,542.7 C192.2,542.1 186.4,539.5 185.1,540.1 C183.8,540.7 186.0,545.6 186.0,547.1 C186.0,548.6 186.1,551.9 185.1,551.5 C184.0,551.0 179.5,544.2 178.1,543.6 C176.7,543.0 174.9,544.7 174.6,547.1 C174.2,549.4 175.7,558.6 175.4,561.1 C175.2,563.5 174.1,565.5 172.8,565.5 C171.5,565.5 167.7,563.1 165.8,561.1 C163.9,559.1 160.9,551.8 158.8,550.6 C156.7,549.4 153.1,551.4 150.0,552.3 C147.0,553.3 138.1,557.6 136.0,557.6 C133.9,557.6 133.3,554.0 134.3,552.3 C135.2,550.7 140.9,547.0 143.0,545.3 C145.1,543.7 150.5,541.2 150.0,540.1 C149.6,538.9 142.6,538.0 139.5,536.6 C136.5,535.2 127.4,531.3 127.3,529.6 C127.2,527.8 137.7,525.5 138.7,523.4 C139.6,521.3 133.1,514.8 134.3,513.8 C135.4,512.8 146.6,517.3 147.4,515.9 C148.2,514.5 140.2,505.3 140.4,503.3 C140.6,501.3 147.4,502.8 149.2,500.7 C150.9,498.6 152.4,488.1 153.5,487.5 C154.7,486.9 157.0,493.5 157.9,496.3 C158.9,499.1 159.6,510.1 160.6,508.5 C161.5,507.0 163.6,487.5 164.9,484.9 Z" fill="none" stroke="#151515" stroke-width="1.9" stroke-linejoin="round"/>
<path d="M189.5,485.8 C190.9,486.2 193.1,491.1 193.8,492.8 C194.6,494.4 194.9,498.1 195.6,499.8 C196.3,501.4 199.6,504.1 200.0,506.8 C200.4,509.4 200.0,520.2 199.1,522.6 C198.2,524.9 193.6,526.0 192.1,526.9 C190.6,527.9 185.5,529.5 186.0,530.4 C186.4,531.4 192.8,533.4 195.6,534.8 C198.4,536.2 208.8,541.7 209.6,542.7 C210.4,543.7 205.5,544.1 202.6,543.6 C199.7,543.1 187.9,538.5 185.1,538.3 C182.2,538.1 179.3,541.8 178.1,541.8 C176.8,541.8 175.1,537.1 174.6,538.3 C174.1,539.5 173.6,548.7 173.7,552.3 C173.8,556.0 175.4,567.7 175.4,569.9 C175.4,572.0 174.4,571.3 173.7,570.7 C173.0,570.1 170.6,566.1 169.3,564.6 C168.0,563.1 163.5,558.9 162.3,557.6 C161.1,556.3 160.2,553.2 158.8,553.2 C157.4,553.2 152.2,556.5 150.0,557.6 C147.9,558.7 141.8,562.8 140.4,562.8 C139.0,562.8 138.3,558.8 137.8,557.6 C137.3,556.4 136.9,553.6 136.0,552.3 C135.1,551.1 129.9,548.7 129.9,547.1 C129.9,545.4 133.2,540.3 136.0,538.3 C138.9,536.4 153.6,531.9 154.4,530.4 C155.2,529.0 145.3,527.1 143.0,526.1 C140.8,525.0 135.7,522.6 135.2,521.7 C134.6,520.8 136.3,518.6 138.7,518.2 C141.0,517.8 153.7,519.0 155.3,518.2 C156.9,517.4 153.8,512.8 152.7,511.2 C151.5,509.5 145.8,504.6 145.7,504.2 C145.6,503.8 150.1,506.7 151.8,507.7 C153.5,508.6 159.2,512.0 160.6,512.0 C161.9,512.0 162.5,506.8 163.2,507.7 C163.9,508.5 165.8,517.9 166.7,519.1 C167.6,520.2 170.1,519.3 171.1,517.3 C172.0,515.3 173.3,504.8 174.6,501.5 C175.8,498.3 179.8,491.1 181.6,489.3 C183.3,487.4 188.0,485.4 189.5,485.8 Z" fill="none" stroke="#1f1fff" stroke-width="1.6" stroke-linejoin="round"/>
<circle cx="168.4" cy="478.8" r="4.1" fill="#fff" stroke="#a8a8a8" stroke-width="0.8"/>
<circle cx="136.0" cy="492.4" r="4.1" fill="#fff" stroke="#a8a8a8" stroke-width="0.8"/>
<circle cx="217.0" cy="521.3" r="4.1" fill="#fff" stroke="#a8a8a8" stroke-width="0.8"/>
<circle cx="140.4" cy="546.6" r="4.1" fill="#fff" stroke="#a8a8a8" stroke-width="0.8"/>
<circle cx="173.7" cy="546.6" r="4.1" fill="#fff" stroke="#a8a8a8" stroke-width="0.8"/>
<circle cx="193.8" cy="545.3" r="4.1" fill="#fff" stroke="#a8a8a8" stroke-width="0.8"/>
<circle cx="158.8" cy="557.6" r="4.1" fill="#fff" stroke="#a8a8a8" stroke-width="0.8"/>
<circle cx="173.7" cy="529.6" r="4.1" fill="#fff" stroke="#a8a8a8" stroke-width="0.8"/>
<circle cx="168.4" cy="522.6" r="4.1" fill="#fff" stroke="#a8a8a8" stroke-width="0.8"/>
<circle cx="189.5" cy="506.8" r="4.1" fill="#fff" stroke="#a8a8a8" stroke-width="0.8"/>
<polygon points="167.6,527.1 164.4,532.5 170.7,532.5" fill="#fff" stroke="#5a5aff" stroke-width="0.7" stroke-linejoin="round"/>
<polygon points="180.7,533.2 177.6,538.6 183.8,538.6" fill="#fff" stroke="#5a5aff" stroke-width="0.7" stroke-linejoin="round"/>
<polygon points="127.3,548.2 122.6,556.3 132.0,556.3" fill="#fff" stroke="#7a7aff" stroke-width="0.8" stroke-linejoin="round"/>
<path d="M168.6,426.8 L186.8,428.8 L207.3,424.8 L221.6,439.7 L227.9,459.2 L234.5,474.5 L247.8,483.8 L240.4,503.3 L261.3,513.2 L256.3,529.1 L251.7,543.9 L249.4,559.7 L236.5,569.7 L229.5,581.6 L214.6,584.6 L213.2,607.4 L196.7,608.4 L182.4,610.4 L168.6,601.4 L156.1,601.0 L141.2,603.4 L129.7,596.5 L108.5,600.4 L101.9,585.9 L93.6,571.6 L87.6,558.7 L80.7,543.9 L85.6,530.0 L78.7,514.2 L74.7,495.3 L84.7,482.4 L96.6,471.1 L117.4,469.1 L123.4,452.0 L134.3,436.1 L151.6,433.8 Z" fill="none" stroke="#808000" stroke-width="1.8" stroke-linejoin="round"/>
<circle cx="168.6" cy="426.8" r="4.9" fill="#808000" stroke="none" stroke-width="0"/>
<circle cx="186.8" cy="428.8" r="4.9" fill="#808000" stroke="none" stroke-width="0"/>
<circle cx="207.3" cy="424.8" r="4.9" fill="#808000" stroke="none" stroke-width="0"/>
<circle cx="221.6" cy="439.7" r="4.9" fill="#808000" stroke="none" stroke-width="0"/>
<circle cx="227.9" cy="459.2" r="4.9" fill="#808000" stroke="none" stroke-width="0"/>
<circle cx="234.5" cy="474.5" r="4.9" fill="#808000" stroke="none" stroke-width="0"/>
<circle cx="247.8" cy="483.8" r="4.9" fill="#808000" stroke="none" stroke-width="0"/>
<circle cx="240.4" cy="503.3" r="4.9" fill="#808000" stroke="none" stroke-width="0"/>
<circle cx="261.3" cy="513.2" r="4.9" fill="#808000" stroke="none" stroke-width="0"/>
<circle cx="256.3" cy="529.1" r="4.9" fill="#808000" stroke="none" stroke-width="0"/>
<circle cx="251.7" cy="543.9" r="4.9" fill="#808000" stroke="none" stroke-width="0"/>
<circle cx="249.4" cy="559.7" r="4.9" fill="#808000" stroke="none" stroke-width="0"/>
<circle cx="236.5" cy="569.7" r="4.9" fill="#808000" stroke="none" stroke-width="0"/>
<circle cx="229.5" cy="581.6" r="4.9" fill="#808000" stroke="none" stroke-width="0"/>
<circle cx="214.6" cy="584.6" r="4.9" fill="#808000" stroke="none" stroke-width="0"/>
<circle cx="213.2" cy="607.4" r="4.9" fill="#808000" stroke="none" stroke-width="0"/>
<circle cx="196.7" cy="608.4" r="4.9" fill="#808000" stroke="none" stroke-width="0"/>
<circle cx="182.4" cy="610.4" r="4.9" fill="#808000" stroke="none" stroke-width="0"/>
<circle cx="168.6" cy="601.4" r="4.9" fill="#808000" stroke="none" stroke-width="0"/>
<circle cx="156.1" cy="601.0" r="4.9" fill="#808000" stroke="none" stroke-width="0"/>
<circle cx="141.2" cy="603.4" r="4.9" fill="#808000" stroke="none" stroke-width="0"/>
<circle cx="129.7" cy="596.5" r="4.9" fill="#808000" stroke="none" stroke-width="0"/>
<circle cx="108.5" cy="600.4" r="4.9" fill="#808000" stroke="none" stroke-width="0"/>
<circle cx="101.9" cy="585.9" r="4.9" fill="#808000" stroke="none" stroke-width="0"/>
<circle cx="93.6" cy="571.6" r="4.9" fill="#808000" stroke="none" stroke-width="0"/>
<circle cx="87.6" cy="558.7" r="4.9" fill="#808000" stroke="none" stroke-width="0"/>
<circle cx="80.7" cy="543.9" r="4.9" fill="#808000" stroke="none" stroke-width="0"/>
<circle cx="85.6" cy="530.0" r="4.9" fill="#808000" stroke="none" stroke-width="0"/>
<circle cx="78.7" cy="514.2" r="4.9" fill="#808000" stroke="none" stroke-width="0"/>
<circle cx="74.7" cy="495.3" r="4.9" fill="#808000" stroke="none" stroke-width="0"/>
<circle cx="84.7" cy="482.4" r="4.9" fill="#808000" stroke="none" stroke-width="0"/>
<circle cx="96.6" cy="471.1" r="4.9" fill="#808000" stroke="none" stroke-width="0"/>
<circle cx="117.4" cy="469.1" r="4.9" fill="#808000" stroke="none" stroke-width="0"/>
<circle cx="123.4" cy="452.0" r="4.9" fill="#808000" stroke="none" stroke-width="0"/>
<circle cx="134.3" cy="436.1" r="4.9" fill="#808000" stroke="none" stroke-width="0"/>
<circle cx="151.6" cy="433.8" r="4.9" fill="#808000" stroke="none" stroke-width="0"/>
<path d="M168.6,422.8 C174.7,423.2 181.3,424.0 186.8,425.8 C192.3,427.6 196.7,430.6 201.7,433.8 C206.7,436.9 211.8,441.2 216.6,444.7 C221.4,448.2 225.9,451.1 230.5,454.6 C235.1,458.1 240.4,461.1 244.4,465.5 C248.4,470.0 251.6,476.3 254.3,481.4 C257.1,486.5 259.4,491.0 260.9,496.3 C262.4,501.6 261.5,507.2 263.3,513.2 C265.0,519.1 271.9,526.8 271.2,532.0 C270.5,537.3 261.9,539.7 259.3,544.8 C256.6,550.0 258.0,558.1 255.3,562.7 C252.7,567.3 244.9,567.5 243.4,572.6 C241.9,577.8 249.0,589.0 246.4,593.5 C243.7,598.0 231.8,595.5 227.5,599.4 C223.2,603.4 224.7,613.7 220.6,617.3 C216.4,621.0 208.3,618.8 202.7,621.3 C197.1,623.8 192.5,631.0 186.8,632.2 C181.1,633.4 174.5,629.4 168.6,628.2 C162.6,627.1 156.7,627.1 151.2,625.3 C145.6,623.4 140.7,619.0 135.3,617.3 C129.8,615.7 121.9,619.3 118.4,615.3 C114.9,611.4 118.4,597.3 114.0,593.5 C109.6,589.7 94.1,596.8 92.0,592.5 C89.9,588.2 102.8,573.0 101.5,567.7 C100.3,562.4 86.4,564.9 84.7,560.7 C82.9,556.6 92.9,548.0 91.2,542.9 C89.6,537.7 78.9,535.2 74.7,530.0 C70.6,524.7 66.0,517.4 66.2,511.6 C66.4,505.8 73.0,500.5 75.7,495.3 C78.5,490.1 79.9,485.4 82.7,480.4 C85.5,475.5 89.0,470.2 92.6,465.5 C96.2,460.9 100.2,456.4 104.5,452.6 C108.8,448.8 114.1,447.3 118.4,442.7 C122.7,438.1 125.0,428.0 130.3,424.8 C135.6,421.6 143.8,423.8 150.2,423.4 C156.5,423.1 162.4,422.4 168.6,422.8 Z" fill="none" stroke="#00ffff" stroke-width="1.9" stroke-linejoin="round"/>
<polygon points="168.6,417.3 163.4,426.3 173.7,426.3" fill="#00ffff" stroke="none" stroke-width="0" stroke-linejoin="round"/>
<polygon points="186.8,420.3 181.6,429.3 192.0,429.3" fill="#00ffff" stroke="none" stroke-width="0" stroke-linejoin="round"/>
<polygon points="201.7,428.2 196.5,437.2 206.9,437.2" fill="#00ffff" stroke="none" stroke-width="0" stroke-linejoin="round"/>
<polygon points="216.6,439.1 211.4,448.1 221.8,448.1" fill="#00ffff" stroke="none" stroke-width="0" stroke-linejoin="round"/>
<polygon points="230.5,449.0 225.3,458.1 235.7,458.1" fill="#00ffff" stroke="none" stroke-width="0" stroke-linejoin="round"/>
<polygon points="244.4,460.0 239.2,469.0 249.6,469.0" fill="#00ffff" stroke="none" stroke-width="0" stroke-linejoin="round"/>
<polygon points="254.3,475.9 249.1,484.9 259.5,484.9" fill="#00ffff" stroke="none" stroke-width="0" stroke-linejoin="round"/>
<polygon points="260.9,490.7 255.7,499.8 266.1,499.8" fill="#00ffff" stroke="none" stroke-width="0" stroke-linejoin="round"/>
<polygon points="263.3,507.6 258.1,516.6 268.4,516.6" fill="#00ffff" stroke="none" stroke-width="0" stroke-linejoin="round"/>
<polygon points="271.2,526.5 266.0,535.5 276.4,535.5" fill="#00ffff" stroke="none" stroke-width="0" stroke-linejoin="round"/>
<polygon points="259.3,539.3 254.1,548.3 264.5,548.3" fill="#00ffff" stroke="none" stroke-width="0" stroke-linejoin="round"/>
<polygon points="255.3,557.2 250.1,566.2 260.5,566.2" fill="#00ffff" stroke="none" stroke-width="0" stroke-linejoin="round"/>
<polygon points="243.4,567.1 238.2,576.1 248.6,576.1" fill="#00ffff" stroke="none" stroke-width="0" stroke-linejoin="round"/>
<polygon points="246.4,587.9 241.2,596.9 251.6,596.9" fill="#00ffff" stroke="none" stroke-width="0" stroke-linejoin="round"/>
<polygon points="227.5,593.9 222.3,602.9 232.7,602.9" fill="#00ffff" stroke="none" stroke-width="0" stroke-linejoin="round"/>
<polygon points="220.6,611.7 215.4,620.8 225.8,620.8" fill="#00ffff" stroke="none" stroke-width="0" stroke-linejoin="round"/>
<polygon points="202.7,615.7 197.5,624.7 207.9,624.7" fill="#00ffff" stroke="none" stroke-width="0" stroke-linejoin="round"/>
<polygon points="186.8,626.6 181.6,635.6 192.0,635.6" fill="#00ffff" stroke="none" stroke-width="0" stroke-linejoin="round"/>
<polygon points="168.6,622.7 163.4,631.7 173.7,631.7" fill="#00ffff" stroke="none" stroke-width="0" stroke-linejoin="round"/>
<polygon points="151.2,619.7 146.0,628.7 156.4,628.7" fill="#00ffff" stroke="none" stroke-width="0" stroke-linejoin="round"/>
<polygon points="135.3,611.7 130.1,620.8 140.5,620.8" fill="#00ffff" stroke="none" stroke-width="0" stroke-linejoin="round"/>
<polygon points="118.4,609.8 113.2,618.8 123.6,618.8" fill="#00ffff" stroke="none" stroke-width="0" stroke-linejoin="round"/>
<polygon points="114.0,587.9 108.8,596.9 119.2,596.9" fill="#00ffff" stroke="none" stroke-width="0" stroke-linejoin="round"/>
<polygon points="92.0,586.9 86.8,595.9 97.2,595.9" fill="#00ffff" stroke="none" stroke-width="0" stroke-linejoin="round"/>
<polygon points="101.5,562.1 96.3,571.1 106.7,571.1" fill="#00ffff" stroke="none" stroke-width="0" stroke-linejoin="round"/>
<polygon points="84.7,555.2 79.5,564.2 89.9,564.2" fill="#00ffff" stroke="none" stroke-width="0" stroke-linejoin="round"/>
<polygon points="91.2,537.3 86.0,546.3 96.4,546.3" fill="#00ffff" stroke="none" stroke-width="0" stroke-linejoin="round"/>
<polygon points="74.7,524.4 69.5,533.4 79.9,533.4" fill="#00ffff" stroke="none" stroke-width="0" stroke-linejoin="round"/>
<polygon points="75.7,489.7 70.5,498.8 80.9,498.8" fill="#00ffff" stroke="none" stroke-width="0" stroke-linejoin="round"/>
<polygon points="82.7,474.9 77.5,483.9 87.9,483.9" fill="#00ffff" stroke="none" stroke-width="0" stroke-linejoin="round"/>
<polygon points="92.6,460.0 87.4,469.0 97.8,469.0" fill="#00ffff" stroke="none" stroke-width="0" stroke-linejoin="round"/>
<polygon points="104.5,447.1 99.3,456.1 109.7,456.1" fill="#00ffff" stroke="none" stroke-width="0" stroke-linejoin="round"/>
<polygon points="118.4,437.1 113.2,446.1 123.6,446.1" fill="#00ffff" stroke="none" stroke-width="0" stroke-linejoin="round"/>
<polygon points="130.3,419.3 125.1,428.3 135.5,428.3" fill="#00ffff" stroke="none" stroke-width="0" stroke-linejoin="round"/>
<polygon points="150.2,417.9 145.0,426.9 155.4,426.9" fill="#00ffff" stroke="none" stroke-width="0" stroke-linejoin="round"/>
<path d="M168.6,416.3 C178.2,415.9 178.4,417.4 187.8,419.9 C197.2,422.4 197.3,422.2 206.1,426.2 C214.9,430.3 215.4,430.3 223.0,436.1 C230.5,442.0 229.6,443.4 236.5,449.6 C243.3,455.9 244.6,454.1 250.4,461.2 C256.1,468.2 255.1,469.6 259.3,477.8 C263.5,486.1 264.8,485.6 267.2,494.3 C269.6,503.1 268.4,503.7 268.8,512.8 C269.2,521.9 269.5,522.0 268.8,530.7 C268.2,539.3 267.5,538.9 266.2,547.4 C264.9,555.9 266.4,556.4 263.7,564.7 C260.9,573.0 262.0,574.9 255.3,580.6 C248.7,586.3 242.3,580.6 237.0,587.5 C231.8,594.5 238.9,601.0 234.5,608.4 C230.0,615.7 226.8,612.1 219.2,616.9 C211.6,621.7 212.6,625.8 204.1,627.6 C195.6,629.5 194.1,622.6 185.2,624.3 C176.3,625.9 177.3,632.6 168.6,634.2 C159.8,635.8 158.8,632.9 150.2,630.6 C141.5,628.3 140.2,631.3 133.9,624.9 C127.5,618.5 131.0,611.1 124.8,605.0 C118.6,598.9 116.4,604.1 109.1,600.4 C101.8,596.8 100.9,596.5 95.6,590.5 C90.2,584.6 90.1,584.3 87.6,576.6 C85.2,568.9 87.9,567.5 85.6,559.7 C83.4,551.9 79.7,552.8 78.7,545.4 C77.7,538.1 85.5,538.8 81.7,530.4 C77.9,521.9 67.6,520.9 63.4,511.6 C59.2,502.2 62.5,502.1 64.8,492.9 C67.1,483.8 67.1,482.8 72.7,475.1 C78.4,467.3 80.3,468.3 87.2,462.0 C94.2,455.6 94.3,457.1 100.5,449.6 C106.7,442.2 104.4,437.4 112.1,432.2 C119.7,427.0 122.0,431.5 131.3,428.8 C140.6,426.1 139.9,424.6 149.2,421.5 C158.5,418.3 158.9,416.7 168.6,416.3 Z" fill="none" stroke="#00008b" stroke-width="1.9" stroke-linejoin="round"/>
<polygon points="168.6,412.4 172.3,415.1 170.8,419.5 166.3,419.5 164.8,415.1" fill="#00008b" stroke="none" stroke-width="0" stroke-linejoin="round"/>
<polygon points="187.8,416.0 191.5,418.7 190.1,423.0 185.5,423.0 184.1,418.7" fill="#00008b" stroke="none" stroke-width="0" stroke-linejoin="round"/>
<polygon points="206.1,422.3 209.8,425.0 208.4,429.4 203.8,429.4 202.4,425.0" fill="#00008b" stroke="none" stroke-width="0" stroke-linejoin="round"/>
<polygon points="223.0,432.2 226.7,434.9 225.2,439.3 220.7,439.3 219.2,434.9" fill="#00008b" stroke="none" stroke-width="0" stroke-linejoin="round"/>
<polygon points="236.5,445.7 240.2,448.4 238.7,452.8 234.2,452.8 232.7,448.4" fill="#00008b" stroke="none" stroke-width="0" stroke-linejoin="round"/>
<polygon points="250.4,457.3 254.1,460.0 252.6,464.3 248.1,464.3 246.6,460.0" fill="#00008b" stroke="none" stroke-width="0" stroke-linejoin="round"/>
<polygon points="259.3,473.9 263.0,476.6 261.6,481.0 257.0,481.0 255.6,476.6" fill="#00008b" stroke="none" stroke-width="0" stroke-linejoin="round"/>
<polygon points="267.2,490.4 270.9,493.1 269.5,497.5 264.9,497.5 263.5,493.1" fill="#00008b" stroke="none" stroke-width="0" stroke-linejoin="round"/>
<polygon points="268.8,508.9 272.5,511.6 271.1,515.9 266.5,515.9 265.1,511.6" fill="#00008b" stroke="none" stroke-width="0" stroke-linejoin="round"/>
<polygon points="268.8,526.8 272.5,529.4 271.1,533.8 266.5,533.8 265.1,529.4" fill="#00008b" stroke="none" stroke-width="0" stroke-linejoin="round"/>
<polygon points="266.2,543.5 269.9,546.2 268.5,550.6 263.9,550.6 262.5,546.2" fill="#00008b" stroke="none" stroke-width="0" stroke-linejoin="round"/>
<polygon points="263.7,560.8 267.4,563.5 265.9,567.9 261.4,567.9 259.9,563.5" fill="#00008b" stroke="none" stroke-width="0" stroke-linejoin="round"/>
<polygon points="255.3,576.7 259.0,579.4 257.6,583.7 253.0,583.7 251.6,579.4" fill="#00008b" stroke="none" stroke-width="0" stroke-linejoin="round"/>
<polygon points="237.0,583.6 240.8,586.3 239.3,590.7 234.8,590.7 233.3,586.3" fill="#00008b" stroke="none" stroke-width="0" stroke-linejoin="round"/>
<polygon points="234.5,604.5 238.2,607.2 236.8,611.5 232.2,611.5 230.8,607.2" fill="#00008b" stroke="none" stroke-width="0" stroke-linejoin="round"/>
<polygon points="219.2,613.0 222.9,615.7 221.5,620.1 216.9,620.1 215.5,615.7" fill="#00008b" stroke="none" stroke-width="0" stroke-linejoin="round"/>
<polygon points="204.1,623.7 207.8,626.4 206.4,630.8 201.8,630.8 200.4,626.4" fill="#00008b" stroke="none" stroke-width="0" stroke-linejoin="round"/>
<polygon points="185.2,620.4 188.9,623.1 187.5,627.4 182.9,627.4 181.5,623.1" fill="#00008b" stroke="none" stroke-width="0" stroke-linejoin="round"/>
<polygon points="168.6,630.3 172.3,633.0 170.8,637.3 166.3,637.3 164.8,633.0" fill="#00008b" stroke="none" stroke-width="0" stroke-linejoin="round"/>
<polygon points="150.2,626.7 153.9,629.4 152.5,633.8 147.9,633.8 146.5,629.4" fill="#00008b" stroke="none" stroke-width="0" stroke-linejoin="round"/>
<polygon points="133.9,621.0 137.6,623.7 136.2,628.0 131.6,628.0 130.2,623.7" fill="#00008b" stroke="none" stroke-width="0" stroke-linejoin="round"/>
<polygon points="124.8,601.1 128.5,603.8 127.1,608.2 122.5,608.2 121.1,603.8" fill="#00008b" stroke="none" stroke-width="0" stroke-linejoin="round"/>
<polygon points="109.1,596.5 112.8,599.2 111.4,603.6 106.8,603.6 105.4,599.2" fill="#00008b" stroke="none" stroke-width="0" stroke-linejoin="round"/>
<polygon points="95.6,586.6 99.3,589.3 97.9,593.7 93.3,593.7 91.9,589.3" fill="#00008b" stroke="none" stroke-width="0" stroke-linejoin="round"/>
<polygon points="87.6,572.7 91.3,575.4 89.9,579.8 85.3,579.8 83.9,575.4" fill="#00008b" stroke="none" stroke-width="0" stroke-linejoin="round"/>
<polygon points="85.6,555.8 89.4,558.5 87.9,562.9 83.4,562.9 81.9,558.5" fill="#00008b" stroke="none" stroke-width="0" stroke-linejoin="round"/>
<polygon points="78.7,541.5 82.4,544.2 81.0,548.6 76.4,548.6 75.0,544.2" fill="#00008b" stroke="none" stroke-width="0" stroke-linejoin="round"/>
<polygon points="81.7,526.5 85.4,529.1 84.0,533.5 79.4,533.5 78.0,529.1" fill="#00008b" stroke="none" stroke-width="0" stroke-linejoin="round"/>
<polygon points="63.4,507.7 67.1,510.4 65.7,514.7 61.1,514.7 59.7,510.4" fill="#00008b" stroke="none" stroke-width="0" stroke-linejoin="round"/>
<polygon points="64.8,489.0 68.5,491.7 67.1,496.1 62.5,496.1 61.1,491.7" fill="#00008b" stroke="none" stroke-width="0" stroke-linejoin="round"/>
<polygon points="72.7,471.2 76.5,473.9 75.0,478.2 70.5,478.2 69.0,473.9" fill="#00008b" stroke="none" stroke-width="0" stroke-linejoin="round"/>
<polygon points="87.2,458.1 90.9,460.8 89.5,465.1 84.9,465.1 83.5,460.8" fill="#00008b" stroke="none" stroke-width="0" stroke-linejoin="round"/>
<polygon points="100.5,445.7 104.2,448.4 102.8,452.8 98.2,452.8 96.8,448.4" fill="#00008b" stroke="none" stroke-width="0" stroke-linejoin="round"/>
<polygon points="112.1,428.3 115.8,431.0 114.3,435.3 109.8,435.3 108.3,431.0" fill="#00008b" stroke="none" stroke-width="0" stroke-linejoin="round"/>
<polygon points="131.3,424.9 135.0,427.6 133.6,432.0 129.0,432.0 127.6,427.6" fill="#00008b" stroke="none" stroke-width="0" stroke-linejoin="round"/>
<polygon points="149.2,417.6 152.9,420.3 151.5,424.6 146.9,424.6 145.5,420.3" fill="#00008b" stroke="none" stroke-width="0" stroke-linejoin="round"/>
</g>
<g id="plot-d">
<circle cx="523.3" cy="531.5" r="10.70" fill="none" stroke="#dadada" stroke-width="0.8"/>
<circle cx="523.3" cy="531.5" r="21.40" fill="none" stroke="#b4b4b4" stroke-width="0.8"/>
<circle cx="523.3" cy="531.5" r="32.10" fill="none" stroke="#dadada" stroke-width="0.8"/>
<circle cx="523.3" cy="531.5" r="42.80" fill="none" stroke="#b4b4b4" stroke-width="0.8"/>
<circle cx="523.3" cy="531.5" r="53.50" fill="none" stroke="#dadada" stroke-width="0.8"/>
<circle cx="523.3" cy="531.5" r="64.20" fill="none" stroke="#b4b4b4" stroke-width="0.8"/>
<circle cx="523.3" cy="531.5" r="74.90" fill="none" stroke="#dadada" stroke-width="0.8"/>
<circle cx="523.3" cy="531.5" r="85.60" fill="none" stroke="#b4b4b4" stroke-width="0.8"/>
<circle cx="523.3" cy="531.5" r="96.30" fill="none" stroke="#dadada" stroke-width="0.8"/>
<circle cx="523.3" cy="531.5" r="107.00" fill="none" stroke="#b4b4b4" stroke-width="0.8"/>
<circle cx="523.3" cy="531.5" r="117.70" fill="none" stroke="#dadada" stroke-width="0.8"/>
<line x1="523.3" y1="531.5" x2="523.3" y2="403.1" stroke="#ababab" stroke-width="0.8"/>
<line x1="523.3" y1="407.6" x2="523.3" y2="403.1" stroke="#222" stroke-width="1.2"/>
<line x1="526.1" y1="521.2" x2="556.5" y2="407.5" stroke="#cccccc" stroke-width="0.8" stroke-dasharray="1.5,2"/>
<line x1="555.8" y1="410.2" x2="556.5" y2="407.5" stroke="#222" stroke-width="1.1"/>
<line x1="523.3" y1="531.5" x2="587.5" y2="420.3" stroke="#ababab" stroke-width="0.8"/>
<line x1="585.2" y1="424.2" x2="587.5" y2="420.3" stroke="#222" stroke-width="1.2"/>
<line x1="530.9" y1="523.9" x2="614.1" y2="440.7" stroke="#cccccc" stroke-width="0.8" stroke-dasharray="1.5,2"/>
<line x1="612.1" y1="442.7" x2="614.1" y2="440.7" stroke="#222" stroke-width="1.1"/>
<line x1="523.3" y1="531.5" x2="634.5" y2="467.3" stroke="#ababab" stroke-width="0.8"/>
<line x1="630.6" y1="469.5" x2="634.5" y2="467.3" stroke="#222" stroke-width="1.2"/>
<line x1="533.6" y1="528.7" x2="647.3" y2="498.3" stroke="#cccccc" stroke-width="0.8" stroke-dasharray="1.5,2"/>
<line x1="644.6" y1="499.0" x2="647.3" y2="498.3" stroke="#222" stroke-width="1.1"/>
<line x1="523.3" y1="531.5" x2="651.7" y2="531.5" stroke="#ababab" stroke-width="0.8"/>
<line x1="647.2" y1="531.5" x2="651.7" y2="531.5" stroke="#222" stroke-width="1.2"/>
<line x1="533.6" y1="534.3" x2="647.3" y2="564.7" stroke="#cccccc" stroke-width="0.8" stroke-dasharray="1.5,2"/>
<line x1="644.6" y1="564.0" x2="647.3" y2="564.7" stroke="#222" stroke-width="1.1"/>
<line x1="523.3" y1="531.5" x2="634.5" y2="595.7" stroke="#ababab" stroke-width="0.8"/>
<line x1="630.6" y1="593.4" x2="634.5" y2="595.7" stroke="#222" stroke-width="1.2"/>
<line x1="530.9" y1="539.1" x2="614.1" y2="622.3" stroke="#cccccc" stroke-width="0.8" stroke-dasharray="1.5,2"/>
<line x1="612.1" y1="620.3" x2="614.1" y2="622.3" stroke="#222" stroke-width="1.1"/>
<line x1="523.3" y1="531.5" x2="587.5" y2="642.7" stroke="#ababab" stroke-width="0.8"/>
<line x1="585.2" y1="638.8" x2="587.5" y2="642.7" stroke="#222" stroke-width="1.2"/>
<line x1="526.1" y1="541.8" x2="556.5" y2="655.5" stroke="#cccccc" stroke-width="0.8" stroke-dasharray="1.5,2"/>
<line x1="555.8" y1="652.8" x2="556.5" y2="655.5" stroke="#222" stroke-width="1.1"/>
<line x1="523.3" y1="531.5" x2="523.3" y2="659.9" stroke="#ababab" stroke-width="0.8"/>
<line x1="523.3" y1="655.4" x2="523.3" y2="659.9" stroke="#222" stroke-width="1.2"/>
<line x1="520.5" y1="541.8" x2="490.1" y2="655.5" stroke="#cccccc" stroke-width="0.8" stroke-dasharray="1.5,2"/>
<line x1="490.8" y1="652.8" x2="490.1" y2="655.5" stroke="#222" stroke-width="1.1"/>
<line x1="523.3" y1="531.5" x2="459.1" y2="642.7" stroke="#ababab" stroke-width="0.8"/>
<line x1="461.3" y1="638.8" x2="459.1" y2="642.7" stroke="#222" stroke-width="1.2"/>
<line x1="515.7" y1="539.1" x2="432.5" y2="622.3" stroke="#cccccc" stroke-width="0.8" stroke-dasharray="1.5,2"/>
<line x1="434.5" y1="620.3" x2="432.5" y2="622.3" stroke="#222" stroke-width="1.1"/>
<line x1="523.3" y1="531.5" x2="412.1" y2="595.7" stroke="#ababab" stroke-width="0.8"/>
<line x1="416.0" y1="593.5" x2="412.1" y2="595.7" stroke="#222" stroke-width="1.2"/>
<line x1="513.0" y1="534.3" x2="399.3" y2="564.7" stroke="#cccccc" stroke-width="0.8" stroke-dasharray="1.5,2"/>
<line x1="402.0" y1="564.0" x2="399.3" y2="564.7" stroke="#222" stroke-width="1.1"/>
<line x1="523.3" y1="531.5" x2="394.9" y2="531.5" stroke="#ababab" stroke-width="0.8"/>
<line x1="399.4" y1="531.5" x2="394.9" y2="531.5" stroke="#222" stroke-width="1.2"/>
<line x1="513.0" y1="528.7" x2="399.3" y2="498.3" stroke="#cccccc" stroke-width="0.8" stroke-dasharray="1.5,2"/>
<line x1="402.0" y1="499.0" x2="399.3" y2="498.3" stroke="#222" stroke-width="1.1"/>
<line x1="523.3" y1="531.5" x2="412.1" y2="467.3" stroke="#ababab" stroke-width="0.8"/>
<line x1="416.0" y1="469.5" x2="412.1" y2="467.3" stroke="#222" stroke-width="1.2"/>
<line x1="515.7" y1="523.9" x2="432.5" y2="440.7" stroke="#cccccc" stroke-width="0.8" stroke-dasharray="1.5,2"/>
<line x1="434.5" y1="442.7" x2="432.5" y2="440.7" stroke="#222" stroke-width="1.1"/>
<line x1="523.3" y1="531.5" x2="459.1" y2="420.3" stroke="#ababab" stroke-width="0.8"/>
<line x1="461.3" y1="424.2" x2="459.1" y2="420.3" stroke="#222" stroke-width="1.2"/>
<line x1="520.5" y1="521.2" x2="490.1" y2="407.5" stroke="#cccccc" stroke-width="0.8" stroke-dasharray="1.5,2"/>
<line x1="490.8" y1="410.2" x2="490.1" y2="407.5" stroke="#222" stroke-width="1.1"/>
<circle cx="523.3" cy="531.5" r="128.40" fill="none" stroke="#1c1c1c" stroke-width="1.3"/>
<path d="M533.1,504.5 C533.1,505.7 525.9,525.1 526.2,526.5 C526.5,527.9 536.0,518.3 536.3,518.5 C536.6,518.6 528.4,527.3 529.3,528.0 C530.2,528.8 545.3,525.2 545.5,525.5 C545.7,525.9 531.5,530.5 531.3,531.5 C531.2,532.5 543.9,534.8 543.7,535.1 C543.5,535.4 530.4,533.7 529.6,534.4 C528.7,535.1 535.9,541.7 535.6,541.8 C535.3,542.0 527.4,535.9 526.6,536.2 C525.8,536.5 528.3,544.5 528.0,544.5 C527.7,544.5 524.4,535.0 523.3,536.1 C522.2,537.2 517.0,555.9 516.8,555.9 C516.5,556.0 521.3,537.9 520.9,536.7 C520.5,535.5 513.3,544.0 513.0,543.8 C512.6,543.7 518.1,536.3 517.6,535.5 C517.2,534.6 508.9,535.8 508.9,535.4 C508.8,535.0 518.2,532.3 517.5,531.5 C516.9,530.7 502.0,527.2 501.9,527.0 C501.9,526.7 516.3,529.3 517.0,528.6 C517.8,527.9 509.0,520.0 509.2,519.7 C509.4,519.3 517.9,525.5 518.7,524.9 C519.5,524.4 516.6,514.1 517.0,514.2 C517.4,514.3 521.9,525.7 522.8,525.8 C523.7,525.8 525.3,516.6 526.3,514.5 C527.3,512.4 533.1,503.3 533.1,504.5 Z" fill="none" stroke="#6e6e6e" stroke-width="1.0" stroke-linejoin="round"/>
<path d="M534.8,523.5 C534.5,524.2 526.4,529.6 527.1,530.1 C527.7,530.7 542.1,529.7 542.2,529.8 C542.3,530.0 528.9,531.8 528.2,532.4 C527.6,532.9 534.4,536.4 534.2,536.6 C534.0,536.7 526.3,533.5 526.1,534.3 C525.9,535.1 531.9,546.1 531.8,546.2 C531.7,546.4 525.1,536.4 524.3,536.4 C523.6,536.4 523.0,546.6 522.8,546.5 C522.6,546.4 522.5,535.6 521.9,535.3 C521.4,534.9 516.0,542.2 515.8,542.1 C515.6,542.1 520.1,535.0 519.5,534.7 C518.9,534.4 508.8,538.5 508.8,538.3 C508.8,538.0 519.0,532.7 519.3,532.1 C519.6,531.4 512.5,530.2 512.4,530.0 C512.4,529.7 518.8,530.0 518.8,529.4 C518.7,528.7 511.3,522.4 511.5,522.3 C511.7,522.2 520.2,528.5 520.8,528.3 C521.4,528.2 518.7,520.5 518.8,520.4 C518.9,520.2 521.9,527.1 522.4,526.6 C522.9,526.0 524.7,513.5 524.9,513.6 C525.1,513.7 524.2,527.1 524.7,527.7 C525.1,528.4 529.3,522.0 530.2,521.7 C531.0,521.3 535.0,522.8 534.8,523.5 Z" fill="none" stroke="#c4c4c4" stroke-width="2.4" stroke-linejoin="round"/>
<path d="M534.8,523.5 C534.5,524.2 526.4,529.6 527.1,530.1 C527.7,530.7 542.1,529.7 542.2,529.8 C542.3,530.0 528.9,531.8 528.2,532.4 C527.6,532.9 534.4,536.4 534.2,536.6 C534.0,536.7 526.3,533.5 526.1,534.3 C525.9,535.1 531.9,546.1 531.8,546.2 C531.7,546.4 525.1,536.4 524.3,536.4 C523.6,536.4 523.0,546.6 522.8,546.5 C522.6,546.4 522.5,535.6 521.9,535.3 C521.4,534.9 516.0,542.2 515.8,542.1 C515.6,542.1 520.1,535.0 519.5,534.7 C518.9,534.4 508.8,538.5 508.8,538.3 C508.8,538.0 519.0,532.7 519.3,532.1 C519.6,531.4 512.5,530.2 512.4,530.0 C512.4,529.7 518.8,530.0 518.8,529.4 C518.7,528.7 511.3,522.4 511.5,522.3 C511.7,522.2 520.2,528.5 520.8,528.3 C521.4,528.2 518.7,520.5 518.8,520.4 C518.9,520.2 521.9,527.1 522.4,526.6 C522.9,526.0 524.7,513.5 524.9,513.6 C525.1,513.7 524.2,527.1 524.7,527.7 C525.1,528.4 529.3,522.0 530.2,521.7 C531.0,521.3 535.0,522.8 534.8,523.5 Z" fill="none" stroke="#fff" stroke-width="1.5" stroke-linejoin="round"/>
<path d="M523.4,485.9 C526.0,482.4 536.0,485.7 538.3,486.8 C540.7,487.8 540.7,491.2 541.0,493.8 C541.2,496.3 540.7,503.0 540.1,506.0 C539.5,509.1 536.1,514.9 536.6,516.5 C537.0,518.2 540.8,516.7 543.6,518.3 C546.4,519.9 557.1,527.1 557.6,528.8 C558.1,530.6 546.6,531.0 547.1,531.4 C547.6,531.9 560.6,531.0 561.1,532.3 C561.6,533.6 550.1,539.2 550.6,541.1 C551.1,542.9 564.6,545.9 564.6,546.3 C564.6,546.8 553.7,544.6 550.6,544.6 C547.4,544.6 542.4,545.3 541.0,546.3 C539.6,547.4 541.5,551.5 540.1,552.5 C538.7,553.4 531.8,551.8 530.4,553.3 C529.0,554.9 530.4,562.0 529.6,563.8 C528.8,565.7 525.5,567.6 524.3,567.4 C523.1,567.1 522.0,564.7 520.8,562.1 C519.6,559.5 517.7,549.6 515.6,548.1 C513.5,546.6 508.0,549.5 505.0,550.7 C502.1,551.9 494.6,557.0 493.7,556.8 C492.7,556.7 498.6,551.9 498.0,549.8 C497.5,547.7 492.1,542.9 489.3,541.1 C486.5,539.2 478.9,537.9 477.0,535.8 C475.1,533.7 474.6,528.8 475.3,525.3 C476.0,521.8 481.0,512.6 482.3,509.5 C483.6,506.5 482.8,503.0 484.9,502.5 C487.0,502.1 493.9,504.2 498.0,506.0 C502.1,507.9 513.0,516.1 515.6,516.5 C518.1,517.0 517.3,512.1 517.3,509.5 C517.3,507.0 517.4,500.2 515.6,497.3 C513.7,494.4 506.1,488.3 503.3,487.6 C500.5,486.9 496.2,490.3 494.5,492.0 C492.9,493.8 489.4,499.4 491.0,500.8 C492.7,502.2 503.1,500.9 506.8,502.5 C510.5,504.2 516.8,515.3 519.1,513.0 C521.3,510.8 520.9,489.4 523.4,485.9 Z" fill="none" stroke="#151515" stroke-width="2.0" stroke-linejoin="round"/>
<path d="M521.7,487.6 C521.3,485.8 521.5,503.2 520.8,506.0 C520.1,508.9 517.9,512.3 515.6,512.2 C513.2,512.1 502.0,504.5 500.7,505.2 C499.3,505.8 505.4,515.5 504.2,517.4 C502.9,519.4 489.6,520.3 490.2,521.8 C490.7,523.3 509.1,527.7 508.5,530.6 C508.0,533.4 488.2,544.0 485.8,546.3 C483.3,548.7 484.3,551.5 487.5,550.7 C490.8,549.9 510.3,539.0 513.8,539.3 C517.3,539.6 516.2,550.3 517.3,553.3 C518.4,556.4 522.2,565.0 523.4,565.6 C524.7,566.2 527.1,561.1 527.8,558.6 C528.5,556.0 528.3,545.8 529.6,543.7 C530.8,541.6 535.9,540.5 538.3,540.2 C540.8,539.9 547.6,540.4 550.6,541.1 C553.6,541.8 562.5,546.1 563.7,546.3 C565.0,546.5 563.7,544.5 561.1,542.8 C558.5,541.2 542.4,534.2 541.8,532.3 C541.2,530.5 553.6,527.8 555.8,527.1 C558.1,526.3 561.3,527.0 561.1,526.2 C560.9,525.4 555.0,522.4 554.1,520.1 C553.2,517.7 554.2,507.8 553.2,506.0 C552.2,504.3 547.1,504.9 545.3,505.2 C543.6,505.5 540.1,507.5 538.3,508.7 C536.6,509.8 531.5,516.0 530.4,514.8 C529.4,513.6 529.9,497.9 529.6,498.2 C529.3,498.4 528.4,513.8 527.8,516.5 C527.2,519.3 525.0,525.2 524.3,521.8 C523.6,518.4 522.1,489.5 521.7,487.6 Z" fill="none" stroke="#1f1fff" stroke-width="2.1" stroke-linejoin="round"/>
<circle cx="523.4" cy="478.9" r="4.1" fill="#fff" stroke="#a8a8a8" stroke-width="0.8"/>
<circle cx="491.0" cy="492.9" r="4.1" fill="#fff" stroke="#a8a8a8" stroke-width="0.8"/>
<circle cx="481.4" cy="506.9" r="4.1" fill="#fff" stroke="#a8a8a8" stroke-width="0.8"/>
<circle cx="489.3" cy="541.1" r="4.1" fill="#fff" stroke="#a8a8a8" stroke-width="0.8"/>
<circle cx="512.1" cy="559.5" r="4.1" fill="#fff" stroke="#a8a8a8" stroke-width="0.8"/>
<circle cx="528.7" cy="530.6" r="4.1" fill="#fff" stroke="#a8a8a8" stroke-width="0.8"/>
<circle cx="530.4" cy="548.1" r="4.1" fill="#fff" stroke="#a8a8a8" stroke-width="0.8"/>
<polygon points="523.4,482.0 519.8,488.3 527.1,488.3" fill="#fff" stroke="#5a5aff" stroke-width="0.7" stroke-linejoin="round"/>
<polygon points="496.3,494.3 492.7,500.6 499.9,500.6" fill="#fff" stroke="#5a5aff" stroke-width="0.7" stroke-linejoin="round"/>
<polygon points="547.1,497.8 543.5,504.1 550.7,504.1" fill="#fff" stroke="#5a5aff" stroke-width="0.7" stroke-linejoin="round"/>
<polygon points="500.7,512.7 497.0,519.0 504.3,519.0" fill="#fff" stroke="#5a5aff" stroke-width="0.7" stroke-linejoin="round"/>
<polygon points="516.4,509.2 512.8,515.4 520.1,515.4" fill="#fff" stroke="#5a5aff" stroke-width="0.7" stroke-linejoin="round"/>
<polygon points="479.6,518.8 476.0,525.1 483.3,525.1" fill="#fff" stroke="#5a5aff" stroke-width="0.7" stroke-linejoin="round"/>
<polygon points="560.2,519.7 556.6,526.0 563.9,526.0" fill="#fff" stroke="#5a5aff" stroke-width="0.7" stroke-linejoin="round"/>
<polygon points="523.4,526.7 519.8,533.0 527.1,533.0" fill="#fff" stroke="#5a5aff" stroke-width="0.7" stroke-linejoin="round"/>
<polygon points="518.2,534.6 514.6,540.9 521.8,540.9" fill="#fff" stroke="#5a5aff" stroke-width="0.7" stroke-linejoin="round"/>
<polygon points="535.7,532.8 532.1,539.1 539.3,539.1" fill="#fff" stroke="#5a5aff" stroke-width="0.7" stroke-linejoin="round"/>
<polygon points="551.5,532.8 547.8,539.1 555.1,539.1" fill="#fff" stroke="#5a5aff" stroke-width="0.7" stroke-linejoin="round"/>
<polygon points="483.1,550.3 479.5,556.6 486.8,556.6" fill="#fff" stroke="#5a5aff" stroke-width="0.7" stroke-linejoin="round"/>
<polygon points="513.8,550.3 510.2,556.6 517.4,556.6" fill="#fff" stroke="#5a5aff" stroke-width="0.7" stroke-linejoin="round"/>
<polygon points="523.4,558.2 519.8,564.5 527.1,564.5" fill="#fff" stroke="#5a5aff" stroke-width="0.7" stroke-linejoin="round"/>
<path d="M523.6,415.3 L542.4,417.9 L560.3,428.8 L576.6,438.7 L590.5,451.6 L594.4,471.5 L596.0,489.3 L592.0,506.8 L579.5,521.1 L591.5,531.0 L592.8,543.9 L584.5,553.8 L578.5,563.3 L590.1,588.1 L576.2,594.5 L562.7,601.4 L546.8,602.0 L534.9,605.0 L522.4,613.4 L510.1,610.4 L496.2,608.4 L480.4,605.4 L471.4,590.5 L467.5,575.6 L449.2,573.6 L448.6,558.8 L452.2,543.9 L441.6,531.0 L444.2,517.7 L423.8,495.3 L429.7,477.0 L437.7,459.6 L451.6,446.3 L467.5,436.7 L485.3,428.8 L503.8,420.8 Z" fill="none" stroke="#808000" stroke-width="1.8" stroke-linejoin="round"/>
<circle cx="523.6" cy="415.3" r="4.9" fill="#808000" stroke="none" stroke-width="0"/>
<circle cx="542.4" cy="417.9" r="4.9" fill="#808000" stroke="none" stroke-width="0"/>
<circle cx="560.3" cy="428.8" r="4.9" fill="#808000" stroke="none" stroke-width="0"/>
<circle cx="576.6" cy="438.7" r="4.9" fill="#808000" stroke="none" stroke-width="0"/>
<circle cx="590.5" cy="451.6" r="4.9" fill="#808000" stroke="none" stroke-width="0"/>
<circle cx="594.4" cy="471.5" r="4.9" fill="#808000" stroke="none" stroke-width="0"/>
<circle cx="596.0" cy="489.3" r="4.9" fill="#808000" stroke="none" stroke-width="0"/>
<circle cx="592.0" cy="506.8" r="4.9" fill="#808000" stroke="none" stroke-width="0"/>
<circle cx="579.5" cy="521.1" r="4.9" fill="#808000" stroke="none" stroke-width="0"/>
<circle cx="591.5" cy="531.0" r="4.9" fill="#808000" stroke="none" stroke-width="0"/>
<circle cx="592.8" cy="543.9" r="4.9" fill="#808000" stroke="none" stroke-width="0"/>
<circle cx="584.5" cy="553.8" r="4.9" fill="#808000" stroke="none" stroke-width="0"/>
<circle cx="578.5" cy="563.3" r="4.9" fill="#808000" stroke="none" stroke-width="0"/>
<circle cx="590.1" cy="588.1" r="4.9" fill="#808000" stroke="none" stroke-width="0"/>
<circle cx="576.2" cy="594.5" r="4.9" fill="#808000" stroke="none" stroke-width="0"/>
<circle cx="562.7" cy="601.4" r="4.9" fill="#808000" stroke="none" stroke-width="0"/>
<circle cx="546.8" cy="602.0" r="4.9" fill="#808000" stroke="none" stroke-width="0"/>
<circle cx="534.9" cy="605.0" r="4.9" fill="#808000" stroke="none" stroke-width="0"/>
<circle cx="522.4" cy="613.4" r="4.9" fill="#808000" stroke="none" stroke-width="0"/>
<circle cx="510.1" cy="610.4" r="4.9" fill="#808000" stroke="none" stroke-width="0"/>
<circle cx="496.2" cy="608.4" r="4.9" fill="#808000" stroke="none" stroke-width="0"/>
<circle cx="480.4" cy="605.4" r="4.9" fill="#808000" stroke="none" stroke-width="0"/>
<circle cx="471.4" cy="590.5" r="4.9" fill="#808000" stroke="none" stroke-width="0"/>
<circle cx="467.5" cy="575.6" r="4.9" fill="#808000" stroke="none" stroke-width="0"/>
<circle cx="449.2" cy="573.6" r="4.9" fill="#808000" stroke="none" stroke-width="0"/>
<circle cx="448.6" cy="558.8" r="4.9" fill="#808000" stroke="none" stroke-width="0"/>
<circle cx="452.2" cy="543.9" r="4.9" fill="#808000" stroke="none" stroke-width="0"/>
<circle cx="441.6" cy="531.0" r="4.9" fill="#808000" stroke="none" stroke-width="0"/>
<circle cx="444.2" cy="517.7" r="4.9" fill="#808000" stroke="none" stroke-width="0"/>
<circle cx="423.8" cy="495.3" r="4.9" fill="#808000" stroke="none" stroke-width="0"/>
<circle cx="429.7" cy="477.0" r="4.9" fill="#808000" stroke="none" stroke-width="0"/>
<circle cx="437.7" cy="459.6" r="4.9" fill="#808000" stroke="none" stroke-width="0"/>
<circle cx="451.6" cy="446.3" r="4.9" fill="#808000" stroke="none" stroke-width="0"/>
<circle cx="467.5" cy="436.7" r="4.9" fill="#808000" stroke="none" stroke-width="0"/>
<circle cx="485.3" cy="428.8" r="4.9" fill="#808000" stroke="none" stroke-width="0"/>
<circle cx="503.8" cy="420.8" r="4.9" fill="#808000" stroke="none" stroke-width="0"/>
<path d="M523.6,410.9 C530.3,410.7 536.9,413.1 543.4,414.9 C549.9,416.7 556.8,418.5 562.7,421.8 C568.5,425.1 573.4,430.6 578.5,434.7 C583.7,438.9 589.1,442.0 593.4,446.6 C597.7,451.3 600.7,457.2 604.4,462.5 C608.1,467.8 615.3,472.1 615.7,478.4 C616.0,484.8 606.4,494.6 606.3,500.7 C606.3,506.7 616.8,509.7 615.3,514.6 C613.8,519.4 600.4,525.0 597.4,530.0 C594.4,535.1 596.9,540.1 597.4,544.9 C597.9,549.6 601.5,554.7 600.4,558.8 C599.3,562.8 594.8,565.8 590.9,569.1 C586.9,572.4 578.1,573.4 576.6,578.6 C575.0,583.8 584.3,597.4 581.5,600.0 C578.7,602.7 565.3,594.9 559.7,594.5 C554.1,594.1 551.4,595.0 547.8,597.5 C544.1,599.9 541.9,605.7 537.8,609.4 C533.8,613.0 528.5,618.0 523.6,619.3 C518.6,620.6 513.0,618.8 508.2,617.3 C503.3,615.8 497.4,614.8 494.3,610.4 C491.1,605.9 491.9,595.2 489.3,590.5 C486.6,585.9 480.2,586.2 478.4,582.6 C476.6,578.9 481.0,571.5 478.4,568.7 C475.8,565.9 465.0,568.5 462.9,565.7 C460.7,562.9 470.2,554.8 465.5,551.8 C460.8,548.8 439.8,551.1 434.7,547.8 C429.6,544.5 434.5,537.2 434.7,531.9 C434.9,526.7 436.5,521.8 436.1,516.1 C435.7,510.5 430.4,502.8 432.1,497.9 C433.9,492.9 443.5,491.1 446.6,486.4 C449.7,481.6 449.3,475.8 450.6,469.5 C451.8,463.1 451.2,454.4 454.2,448.2 C457.1,442.1 462.9,436.5 468.0,432.8 C473.2,429.0 479.5,428.6 485.3,425.8 C491.2,423.0 496.8,418.4 503.2,415.9 C509.6,413.4 516.8,411.1 523.6,410.9 Z" fill="none" stroke="#00ffff" stroke-width="1.9" stroke-linejoin="round"/>
<polygon points="523.6,405.3 518.4,414.4 528.7,414.4" fill="#00ffff" stroke="none" stroke-width="0" stroke-linejoin="round"/>
<polygon points="543.4,409.3 538.2,418.3 548.6,418.3" fill="#00ffff" stroke="none" stroke-width="0" stroke-linejoin="round"/>
<polygon points="562.7,416.3 557.5,425.3 567.9,425.3" fill="#00ffff" stroke="none" stroke-width="0" stroke-linejoin="round"/>
<polygon points="578.5,429.2 573.4,438.2 583.7,438.2" fill="#00ffff" stroke="none" stroke-width="0" stroke-linejoin="round"/>
<polygon points="593.4,441.1 588.2,450.1 598.6,450.1" fill="#00ffff" stroke="none" stroke-width="0" stroke-linejoin="round"/>
<polygon points="604.4,457.0 599.2,466.0 609.6,466.0" fill="#00ffff" stroke="none" stroke-width="0" stroke-linejoin="round"/>
<polygon points="615.7,472.9 610.5,481.9 620.9,481.9" fill="#00ffff" stroke="none" stroke-width="0" stroke-linejoin="round"/>
<polygon points="606.3,495.1 601.1,504.1 611.5,504.1" fill="#00ffff" stroke="none" stroke-width="0" stroke-linejoin="round"/>
<polygon points="615.3,509.0 610.1,518.0 620.5,518.0" fill="#00ffff" stroke="none" stroke-width="0" stroke-linejoin="round"/>
<polygon points="597.4,524.5 592.2,533.5 602.6,533.5" fill="#00ffff" stroke="none" stroke-width="0" stroke-linejoin="round"/>
<polygon points="597.4,539.3 592.2,548.3 602.6,548.3" fill="#00ffff" stroke="none" stroke-width="0" stroke-linejoin="round"/>
<polygon points="600.4,553.2 595.2,562.2 605.6,562.2" fill="#00ffff" stroke="none" stroke-width="0" stroke-linejoin="round"/>
<polygon points="590.9,563.5 585.7,572.5 596.1,572.5" fill="#00ffff" stroke="none" stroke-width="0" stroke-linejoin="round"/>
<polygon points="576.6,573.0 571.4,582.1 581.8,582.1" fill="#00ffff" stroke="none" stroke-width="0" stroke-linejoin="round"/>
<polygon points="581.5,594.5 576.3,603.5 586.7,603.5" fill="#00ffff" stroke="none" stroke-width="0" stroke-linejoin="round"/>
<polygon points="559.7,588.9 554.5,597.9 564.9,597.9" fill="#00ffff" stroke="none" stroke-width="0" stroke-linejoin="round"/>
<polygon points="547.8,591.9 542.6,600.9 553.0,600.9" fill="#00ffff" stroke="none" stroke-width="0" stroke-linejoin="round"/>
<polygon points="537.8,603.8 532.7,612.8 543.0,612.8" fill="#00ffff" stroke="none" stroke-width="0" stroke-linejoin="round"/>
<polygon points="523.6,613.7 518.4,622.8 528.7,622.8" fill="#00ffff" stroke="none" stroke-width="0" stroke-linejoin="round"/>
<polygon points="508.2,611.8 503.0,620.8 513.3,620.8" fill="#00ffff" stroke="none" stroke-width="0" stroke-linejoin="round"/>
<polygon points="494.3,604.8 489.1,613.8 499.4,613.8" fill="#00ffff" stroke="none" stroke-width="0" stroke-linejoin="round"/>
<polygon points="489.3,585.0 484.1,594.0 494.5,594.0" fill="#00ffff" stroke="none" stroke-width="0" stroke-linejoin="round"/>
<polygon points="478.4,577.0 473.2,586.0 483.6,586.0" fill="#00ffff" stroke="none" stroke-width="0" stroke-linejoin="round"/>
<polygon points="478.4,563.1 473.2,572.1 483.6,572.1" fill="#00ffff" stroke="none" stroke-width="0" stroke-linejoin="round"/>
<polygon points="462.9,560.1 457.7,569.1 468.1,569.1" fill="#00ffff" stroke="none" stroke-width="0" stroke-linejoin="round"/>
<polygon points="465.5,546.2 460.3,555.2 470.7,555.2" fill="#00ffff" stroke="none" stroke-width="0" stroke-linejoin="round"/>
<polygon points="434.7,542.3 429.5,551.3 439.9,551.3" fill="#00ffff" stroke="none" stroke-width="0" stroke-linejoin="round"/>
<polygon points="434.7,526.4 429.5,535.4 439.9,535.4" fill="#00ffff" stroke="none" stroke-width="0" stroke-linejoin="round"/>
<polygon points="436.1,510.6 430.9,519.6 441.3,519.6" fill="#00ffff" stroke="none" stroke-width="0" stroke-linejoin="round"/>
<polygon points="432.1,492.3 426.9,501.3 437.3,501.3" fill="#00ffff" stroke="none" stroke-width="0" stroke-linejoin="round"/>
<polygon points="446.6,480.8 441.4,489.8 451.8,489.8" fill="#00ffff" stroke="none" stroke-width="0" stroke-linejoin="round"/>
<polygon points="450.6,463.9 445.4,472.9 455.8,472.9" fill="#00ffff" stroke="none" stroke-width="0" stroke-linejoin="round"/>
<polygon points="454.2,442.7 449.0,451.7 459.3,451.7" fill="#00ffff" stroke="none" stroke-width="0" stroke-linejoin="round"/>
<polygon points="468.0,427.2 462.9,436.2 473.2,436.2" fill="#00ffff" stroke="none" stroke-width="0" stroke-linejoin="round"/>
<polygon points="485.3,420.2 480.1,429.2 490.5,429.2" fill="#00ffff" stroke="none" stroke-width="0" stroke-linejoin="round"/>
<polygon points="503.2,410.3 498.0,419.3 508.4,419.3" fill="#00ffff" stroke="none" stroke-width="0" stroke-linejoin="round"/>
<path d="M523.6,407.9 C534.3,408.1 534.4,408.5 544.8,410.5 C555.2,412.5 555.6,411.4 565.2,415.9 C574.9,420.3 575.6,421.4 583.5,428.4 C591.5,435.3 591.2,435.2 597.0,443.7 C602.9,452.1 603.1,453.0 606.9,462.1 C610.8,471.3 611.1,471.0 612.3,480.4 C613.5,489.8 612.9,490.5 611.9,499.7 C610.9,508.8 611.0,509.3 608.3,517.1 C605.7,525.0 603.6,524.1 601.4,531.0 C599.1,538.0 601.5,538.4 599.4,544.9 C597.3,551.3 596.3,551.1 592.8,556.8 C589.4,562.5 589.3,562.5 585.5,567.7 C581.7,572.9 580.3,571.1 577.6,577.6 C574.8,584.2 578.2,588.2 574.6,593.9 C571.0,599.6 569.0,597.2 563.1,600.4 C557.1,603.7 557.6,606.1 550.8,606.8 C544.0,607.5 542.7,602.5 535.9,603.4 C529.1,604.3 529.5,612.4 523.6,610.4 C517.6,608.4 517.6,600.5 512.1,595.5 C506.7,590.4 508.0,590.4 501.8,590.1 C495.6,589.9 494.7,593.9 487.3,594.5 C480.0,595.1 475.9,597.7 472.4,592.5 C468.9,587.3 476.0,579.9 473.4,573.6 C470.8,567.3 466.7,571.6 462.1,567.3 C457.5,563.0 461.5,561.5 455.1,556.4 C448.8,551.3 439.4,552.9 436.7,546.8 C433.9,540.7 447.0,540.1 444.2,531.9 C441.5,523.8 429.9,523.0 425.8,514.2 C421.6,505.3 425.8,505.2 427.7,496.7 C429.7,488.1 430.5,488.5 433.7,480.0 C436.9,471.5 435.8,470.6 440.6,462.5 C445.5,454.4 446.5,454.4 453.2,447.6 C459.9,440.8 460.3,442.9 467.5,435.3 C474.6,427.8 473.4,423.8 481.9,417.5 C490.5,411.1 491.4,412.3 501.8,409.9 C512.2,407.5 512.8,407.8 523.6,407.9 Z" fill="none" stroke="#00008b" stroke-width="1.9" stroke-linejoin="round"/>
<polygon points="523.6,404.0 527.3,406.7 525.8,411.1 521.3,411.1 519.8,406.7" fill="#00008b" stroke="none" stroke-width="0" stroke-linejoin="round"/>
<polygon points="544.8,406.6 548.5,409.3 547.1,413.7 542.5,413.7 541.1,409.3" fill="#00008b" stroke="none" stroke-width="0" stroke-linejoin="round"/>
<polygon points="565.2,412.0 569.0,414.7 567.5,419.0 563.0,419.0 561.5,414.7" fill="#00008b" stroke="none" stroke-width="0" stroke-linejoin="round"/>
<polygon points="583.5,424.5 587.2,427.2 585.8,431.5 581.2,431.5 579.8,427.2" fill="#00008b" stroke="none" stroke-width="0" stroke-linejoin="round"/>
<polygon points="597.0,439.8 600.7,442.5 599.3,446.8 594.7,446.8 593.3,442.5" fill="#00008b" stroke="none" stroke-width="0" stroke-linejoin="round"/>
<polygon points="606.9,458.2 610.6,460.9 609.2,465.3 604.6,465.3 603.2,460.9" fill="#00008b" stroke="none" stroke-width="0" stroke-linejoin="round"/>
<polygon points="612.3,476.5 616.0,479.2 614.6,483.6 610.0,483.6 608.6,479.2" fill="#00008b" stroke="none" stroke-width="0" stroke-linejoin="round"/>
<polygon points="611.9,495.8 615.6,498.5 614.2,502.8 609.6,502.8 608.2,498.5" fill="#00008b" stroke="none" stroke-width="0" stroke-linejoin="round"/>
<polygon points="608.3,513.2 612.0,515.9 610.6,520.3 606.0,520.3 604.6,515.9" fill="#00008b" stroke="none" stroke-width="0" stroke-linejoin="round"/>
<polygon points="601.4,527.1 605.1,529.8 603.7,534.2 599.1,534.2 597.7,529.8" fill="#00008b" stroke="none" stroke-width="0" stroke-linejoin="round"/>
<polygon points="599.4,541.0 603.1,543.6 601.7,548.0 597.1,548.0 595.7,543.6" fill="#00008b" stroke="none" stroke-width="0" stroke-linejoin="round"/>
<polygon points="592.8,552.9 596.6,555.6 595.1,559.9 590.5,559.9 589.1,555.6" fill="#00008b" stroke="none" stroke-width="0" stroke-linejoin="round"/>
<polygon points="585.5,563.8 589.2,566.5 587.8,570.8 583.2,570.8 581.8,566.5" fill="#00008b" stroke="none" stroke-width="0" stroke-linejoin="round"/>
<polygon points="577.6,573.7 581.3,576.4 579.8,580.8 575.3,580.8 573.8,576.4" fill="#00008b" stroke="none" stroke-width="0" stroke-linejoin="round"/>
<polygon points="574.6,590.0 578.3,592.7 576.9,597.0 572.3,597.0 570.9,592.7" fill="#00008b" stroke="none" stroke-width="0" stroke-linejoin="round"/>
<polygon points="563.1,596.5 566.8,599.2 565.4,603.6 560.8,603.6 559.4,599.2" fill="#00008b" stroke="none" stroke-width="0" stroke-linejoin="round"/>
<polygon points="550.8,602.9 554.5,605.6 553.0,610.0 548.5,610.0 547.0,605.6" fill="#00008b" stroke="none" stroke-width="0" stroke-linejoin="round"/>
<polygon points="535.9,599.5 539.6,602.2 538.2,606.6 533.6,606.6 532.2,602.2" fill="#00008b" stroke="none" stroke-width="0" stroke-linejoin="round"/>
<polygon points="523.6,606.5 527.3,609.2 525.8,613.5 521.3,613.5 519.8,609.2" fill="#00008b" stroke="none" stroke-width="0" stroke-linejoin="round"/>
<polygon points="512.1,591.6 515.8,594.3 514.4,598.6 509.8,598.6 508.4,594.3" fill="#00008b" stroke="none" stroke-width="0" stroke-linejoin="round"/>
<polygon points="501.8,586.2 505.5,588.9 504.1,593.3 499.5,593.3 498.1,588.9" fill="#00008b" stroke="none" stroke-width="0" stroke-linejoin="round"/>
<polygon points="487.3,590.6 491.0,593.3 489.6,597.6 485.0,597.6 483.6,593.3" fill="#00008b" stroke="none" stroke-width="0" stroke-linejoin="round"/>
<polygon points="472.4,588.6 476.1,591.3 474.7,595.7 470.1,595.7 468.7,591.3" fill="#00008b" stroke="none" stroke-width="0" stroke-linejoin="round"/>
<polygon points="473.4,569.7 477.1,572.4 475.7,576.8 471.1,576.8 469.7,572.4" fill="#00008b" stroke="none" stroke-width="0" stroke-linejoin="round"/>
<polygon points="462.1,563.4 465.8,566.1 464.4,570.4 459.8,570.4 458.4,566.1" fill="#00008b" stroke="none" stroke-width="0" stroke-linejoin="round"/>
<polygon points="455.1,552.5 458.9,555.2 457.4,559.5 452.9,559.5 451.4,555.2" fill="#00008b" stroke="none" stroke-width="0" stroke-linejoin="round"/>
<polygon points="436.7,542.9 440.4,545.6 439.0,550.0 434.4,550.0 433.0,545.6" fill="#00008b" stroke="none" stroke-width="0" stroke-linejoin="round"/>
<polygon points="444.2,528.0 447.9,530.7 446.5,535.1 441.9,535.1 440.5,530.7" fill="#00008b" stroke="none" stroke-width="0" stroke-linejoin="round"/>
<polygon points="425.8,510.3 429.5,512.9 428.1,517.3 423.5,517.3 422.1,512.9" fill="#00008b" stroke="none" stroke-width="0" stroke-linejoin="round"/>
<polygon points="427.7,492.8 431.5,495.5 430.0,499.8 425.5,499.8 424.0,495.5" fill="#00008b" stroke="none" stroke-width="0" stroke-linejoin="round"/>
<polygon points="433.7,476.1 437.4,478.8 436.0,483.2 431.4,483.2 430.0,478.8" fill="#00008b" stroke="none" stroke-width="0" stroke-linejoin="round"/>
<polygon points="440.6,458.6 444.4,461.3 442.9,465.7 438.4,465.7 436.9,461.3" fill="#00008b" stroke="none" stroke-width="0" stroke-linejoin="round"/>
<polygon points="453.2,443.7 456.9,446.4 455.5,450.8 450.9,450.8 449.4,446.4" fill="#00008b" stroke="none" stroke-width="0" stroke-linejoin="round"/>
<polygon points="467.5,431.4 471.2,434.1 469.7,438.5 465.2,438.5 463.7,434.1" fill="#00008b" stroke="none" stroke-width="0" stroke-linejoin="round"/>
<polygon points="481.9,413.6 485.7,416.3 484.2,420.6 479.7,420.6 478.2,416.3" fill="#00008b" stroke="none" stroke-width="0" stroke-linejoin="round"/>
<polygon points="501.8,406.0 505.5,408.7 504.1,413.1 499.5,413.1 498.1,408.7" fill="#00008b" stroke="none" stroke-width="0" stroke-linejoin="round"/>
</g>
<text x="176.4" y="50.7" text-anchor="middle" class="al">0</text>
<text x="242.0" y="69.8" text-anchor="middle" class="al">30</text>
<text x="294.4" y="120.2" text-anchor="middle" class="al">60</text>
<text x="312.4" y="188.9" text-anchor="middle" class="al">90</text>
<text x="298.6" y="258.0" text-anchor="middle" class="al">120</text>
<text x="247.4" y="308.4" text-anchor="middle" class="al">150</text>
<text x="177.1" y="325.0" text-anchor="middle" class="al">180</text>
<text x="105.7" y="308.7" text-anchor="middle" class="al">210</text>
<text x="54.1" y="257.9" text-anchor="middle" class="al">240</text>
<text x="36.9" y="189.2" text-anchor="middle" class="al">270</text>
<text x="53.7" y="120.3" text-anchor="middle" class="al">300</text>
<text x="105.1" y="69.7" text-anchor="middle" class="al">330</text>
<text x="524.0" y="44.8" text-anchor="middle" class="al">0</text>
<text x="590.9" y="65.8" text-anchor="middle" class="al">30</text>
<text x="644.1" y="118.0" text-anchor="middle" class="al">60</text>
<text x="662.5" y="188.0" text-anchor="middle" class="al">90</text>
<text x="648.3" y="258.3" text-anchor="middle" class="al">120</text>
<text x="596.2" y="310.6" text-anchor="middle" class="al">150</text>
<text x="524.7" y="328.6" text-anchor="middle" class="al">180</text>
<text x="452.0" y="310.9" text-anchor="middle" class="al">210</text>
<text x="399.6" y="258.3" text-anchor="middle" class="al">240</text>
<text x="382.0" y="188.3" text-anchor="middle" class="al">270</text>
<text x="399.2" y="118.1" text-anchor="middle" class="al">300</text>
<text x="451.4" y="65.7" text-anchor="middle" class="al">330</text>
<text x="168.5" y="389.6" text-anchor="middle" class="al">0</text>
<text x="236.4" y="410.9" text-anchor="middle" class="al">30</text>
<text x="290.4" y="463.9" text-anchor="middle" class="al">60</text>
<text x="309.1" y="534.9" text-anchor="middle" class="al">90</text>
<text x="294.6" y="606.3" text-anchor="middle" class="al">120</text>
<text x="241.8" y="659.3" text-anchor="middle" class="al">150</text>
<text x="169.2" y="677.6" text-anchor="middle" class="al">180</text>
<text x="95.5" y="659.6" text-anchor="middle" class="al">210</text>
<text x="42.3" y="606.2" text-anchor="middle" class="al">240</text>
<text x="24.4" y="535.2" text-anchor="middle" class="al">270</text>
<text x="41.9" y="464.0" text-anchor="middle" class="al">300</text>
<text x="94.9" y="410.8" text-anchor="middle" class="al">330</text>
<text x="523.3" y="389.3" text-anchor="middle" class="al">0</text>
<text x="592.1" y="410.8" text-anchor="middle" class="al">30</text>
<text x="646.8" y="464.5" text-anchor="middle" class="al">60</text>
<text x="665.7" y="536.4" text-anchor="middle" class="al">90</text>
<text x="651.0" y="608.7" text-anchor="middle" class="al">120</text>
<text x="597.5" y="662.4" text-anchor="middle" class="al">150</text>
<text x="524.0" y="680.9" text-anchor="middle" class="al">180</text>
<text x="449.4" y="662.7" text-anchor="middle" class="al">210</text>
<text x="395.5" y="608.6" text-anchor="middle" class="al">240</text>
<text x="377.4" y="536.7" text-anchor="middle" class="al">270</text>
<text x="395.1" y="464.6" text-anchor="middle" class="al">300</text>
<text x="448.8" y="410.7" text-anchor="middle" class="al">330</text>
<text x="357.5" y="50.4" text-anchor="end" class="rl">9</text>
<text x="357.5" y="73.2" text-anchor="end" class="rl">0</text>
<text x="357.5" y="95.9" text-anchor="end" class="rl">-9</text>
<text x="357.5" y="118.7" text-anchor="end" class="rl">-18</text>
<text x="357.5" y="141.4" text-anchor="end" class="rl">-27</text>
<text x="357.5" y="164.2" text-anchor="end" class="rl">-36</text>
<text x="357.5" y="186.9" text-anchor="end" class="rl">-45</text>
<text x="357.5" y="209.7" text-anchor="end" class="rl">-36</text>
<text x="357.5" y="232.4" text-anchor="end" class="rl">-27</text>
<text x="357.5" y="255.2" text-anchor="end" class="rl">-18</text>
<text x="357.5" y="277.9" text-anchor="end" class="rl">-9</text>
<text x="357.5" y="300.6" text-anchor="end" class="rl">0</text>
<text x="357.5" y="323.4" text-anchor="end" class="rl">9</text>
<text x="353.0" y="402.0" text-anchor="end" class="rl">13</text>
<text x="353.0" y="424.5" text-anchor="end" class="rl">0</text>
<text x="353.0" y="447.0" text-anchor="end" class="rl">-13</text>
<text x="353.0" y="469.5" text-anchor="end" class="rl">-26</text>
<text x="353.0" y="492.0" text-anchor="end" class="rl">-39</text>
<text x="353.0" y="514.5" text-anchor="end" class="rl">-52</text>
<text x="353.0" y="537.0" text-anchor="end" class="rl">-65</text>
<text x="353.0" y="559.5" text-anchor="end" class="rl">-52</text>
<text x="353.0" y="582.0" text-anchor="end" class="rl">-39</text>
<text x="353.0" y="604.5" text-anchor="end" class="rl">-26</text>
<text x="353.0" y="627.0" text-anchor="end" class="rl">-13</text>
<text x="353.0" y="649.5" text-anchor="end" class="rl">0</text>
<text x="353.0" y="672.0" text-anchor="end" class="rl">13</text>
<text x="184" y="25.5" text-anchor="middle" class="ti">H-plane</text>
<text x="528" y="21" text-anchor="middle" class="ti">E-plane</text>
<text x="341" y="32" text-anchor="middle" class="fr">(3.5 GHz)</text>
<text x="353.5" y="376" text-anchor="middle" class="fr">(5.2 GHz)</text>
<rect x="300" y="376.5" width="110" height="8" fill="#fff"/>
<text x="176" y="356.3" text-anchor="middle" class="sub">(a)</text>
<text x="522.6" y="356.3" text-anchor="middle" class="sub">(b)</text>
<text x="177.2" y="713.3" text-anchor="middle" class="sub">(c)</text>
<text x="525.6" y="713.3" text-anchor="middle" class="sub">(d)</text>
<line x1="129.0" y1="759.5" x2="181.5" y2="759.5" stroke="#808000" stroke-width="2.9"/>
<circle cx="155.5" cy="759.5" r="11.2" fill="#808000" stroke="none" stroke-width="0"/>
<text x="194" y="766.3" class="lg">Bending Gain at phi = 0 deg. (at 8 mm)</text>
<line x1="129.0" y1="786.9" x2="181.5" y2="786.9" stroke="#151515" stroke-width="2.9"/>
<circle cx="155.5" cy="786.9" r="9.6" fill="#fff" stroke="#1a1a1a" stroke-width="1.2"/>
<circle cx="155.5" cy="786.9" r="0.9" fill="#555" stroke="none" stroke-width="0"/>
<text x="194" y="793.3" class="lg">Bending Gain at phi = 90 deg. (at 8 mm)</text>
<line x1="129.0" y1="813.9" x2="181.5" y2="813.9" stroke="#00ffff" stroke-width="2.9"/>
<polygon points="155.0,799.9 140.0,822.4 170.0,822.4" fill="#00ffff"/>
<text x="194" y="820.3" class="lg">Bending Gain at phi = 0 deg. (at 10 mm)</text>
<line x1="129.0" y1="843.4" x2="181.5" y2="843.4" stroke="#1f1fff" stroke-width="2.9"/>
<rect x="144.7" y="839.4" width="21" height="8" fill="#fff"/>
<polygon points="155.0,834.1 146.8,848.4 163.2,848.4" fill="#fff" stroke="#3a3aff" stroke-width="1.1" stroke-linejoin="round"/>
<circle cx="155.0" cy="844.4" r="0.8" fill="#66f" stroke="none" stroke-width="0"/>
<text x="194" y="847.3" class="lg">Bending Gain at phi = 90 deg. (at 10 mm)</text>
<line x1="129.0" y1="870.4" x2="181.5" y2="870.4" stroke="#00008b" stroke-width="2.9"/>
<polygon points="155.2,860.5 164.9,867.5 161.2,879.0 149.2,879.0 145.5,867.5" fill="#00008b" stroke="none" stroke-width="0" stroke-linejoin="round"/>
<text x="194" y="874.3" class="lg">Bending Gain at phi = 0 deg. (at 12 mm)</text>
<line x1="129.0" y1="900.5" x2="181.5" y2="900.5" stroke="#8a8a8a" stroke-width="2.9"/>
<polygon points="155.2,892.8 162.8,898.3 159.9,907.3 150.5,907.3 147.6,898.3" fill="#fff" stroke="#999" stroke-width="1.0" stroke-linejoin="round"/>
<circle cx="155.2" cy="901.0" r="0.8" fill="#999" stroke="none" stroke-width="0"/>
<text x="194" y="901.3" class="lg">Bending Gain at phi = 90 deg. (at 12 mm)</text>
</g>
</svg>
</body></html>
